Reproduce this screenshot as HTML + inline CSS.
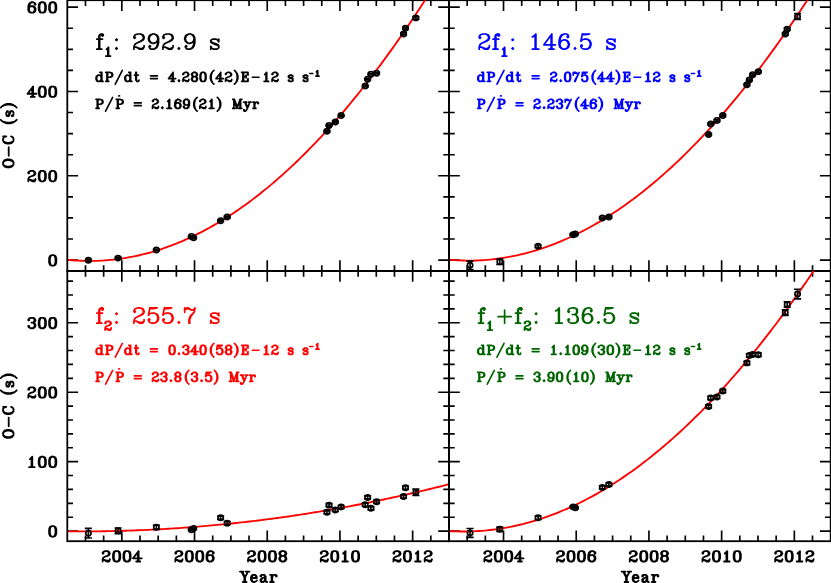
<!DOCTYPE html>
<html><head><meta charset="utf-8"><title>O-C diagrams</title>
<style>html,body{margin:0;padding:0;background:#fff;font-family:"Liberation Sans",sans-serif}svg{display:block}</style></head>
<body>
<svg width="831" height="583" viewBox="0 0 831 583" fill="none" stroke-linecap="round" stroke-linejoin="round">
<title>O-C diagrams</title>
<desc>Four-panel O-C (s) versus Year plot, 2004-2012. f1: 292.9 s, dP/dt = 4.280(42)E-12 s s-1, P/Pdot = 2.169(21) Myr. 2f1: 146.5 s, dP/dt = 2.075(44)E-12 s s-1, P/Pdot = 2.237(46) Myr. f2: 255.7 s, dP/dt = 0.340(58)E-12 s s-1, P/Pdot = 23.8(3.5) Myr. f1+f2: 136.5 s, dP/dt = 1.109(30)E-12 s s-1, P/Pdot = 3.90(10) Myr.</desc>
<rect width="831" height="583" fill="#fff"/>
<defs>
<clipPath id="ctl"><rect x="68.2" y="0.2" width="380.8" height="270.8"/></clipPath>
<clipPath id="ctr"><rect x="449.9" y="0.2" width="380.8" height="270.8"/></clipPath>
<clipPath id="cbl"><rect x="68.2" y="271" width="380.8" height="270.2"/></clipPath>
<clipPath id="cbr"><rect x="449.9" y="271" width="380.8" height="270.2"/></clipPath>
</defs>
<g stroke="#000">
<rect x="67.3" y="0.2" width="381.7" height="270.8" stroke-width="1.8" stroke-linejoin="miter"/>
<path d="M85.48 271v-5.7M85.48 0.2v5.7M103.65 271v-5.7M103.65 0.2v5.7M121.83 271v-10.8M121.83 0.2v10.8M140 271v-5.7M140 0.2v5.7M158.18 271v-5.7M158.18 0.2v5.7M176.36 271v-5.7M176.36 0.2v5.7M194.53 271v-10.8M194.53 0.2v10.8M212.71 271v-5.7M212.71 0.2v5.7M230.89 271v-5.7M230.89 0.2v5.7M249.06 271v-5.7M249.06 0.2v5.7M267.24 271v-10.8M267.24 0.2v10.8M285.41 271v-5.7M285.41 0.2v5.7M303.59 271v-5.7M303.59 0.2v5.7M321.77 271v-5.7M321.77 0.2v5.7M339.94 271v-10.8M339.94 0.2v10.8M358.12 271v-5.7M358.12 0.2v5.7M376.3 271v-5.7M376.3 0.2v5.7M394.47 271v-5.7M394.47 0.2v5.7M412.65 271v-10.8M412.65 0.2v10.8M430.82 271v-5.7M430.82 0.2v5.7M67.3 260.1h10.8M449 260.1h-10.8M67.3 239.02h5.7M449 239.02h-5.7M67.3 217.94h5.7M449 217.94h-5.7M67.3 196.86h5.7M449 196.86h-5.7M67.3 175.78h10.8M449 175.78h-10.8M67.3 154.7h5.7M449 154.7h-5.7M67.3 133.62h5.7M449 133.62h-5.7M67.3 112.54h5.7M449 112.54h-5.7M67.3 91.46h10.8M449 91.46h-10.8M67.3 70.38h5.7M449 70.38h-5.7M67.3 49.3h5.7M449 49.3h-5.7M67.3 28.22h5.7M449 28.22h-5.7M67.3 7.14h10.8M449 7.14h-10.8" stroke-width="1.65" stroke-linecap="butt"/>
</g>
<path clip-path="url(#ctl)" d="M67.3 259.76L70.03 260.03L72.75 260.27L75.48 260.46L78.21 260.63L80.93 260.76L83.66 260.85L86.39 260.92L89.11 260.94L91.84 260.93L94.56 260.89L97.29 260.81L100.02 260.7L102.74 260.56L105.47 260.38L108.2 260.16L110.92 259.91L113.65 259.63L116.38 259.31L119.1 258.96L121.83 258.57L124.56 258.15L127.28 257.69L130.01 257.2L132.73 256.67L135.46 256.11L138.19 255.52L140.91 254.89L143.64 254.22L146.37 253.52L149.09 252.79L151.82 252.02L154.55 251.22L157.27 250.39L160 249.52L162.72 248.61L165.45 247.67L168.18 246.7L170.9 245.69L173.63 244.64L176.36 243.56L179.08 242.45L181.81 241.31L184.54 240.12L187.26 238.91L189.99 237.66L192.72 236.37L195.44 235.05L198.17 233.7L200.89 232.31L203.62 230.89L206.35 229.43L209.07 227.94L211.8 226.41L214.53 224.85L217.25 223.25L219.98 221.62L222.71 219.96L225.43 218.26L228.16 216.52L230.89 214.76L233.61 212.95L236.34 211.12L239.06 209.24L241.79 207.34L244.52 205.4L247.24 203.42L249.97 201.41L252.7 199.37L255.42 197.29L258.15 195.18L260.88 193.03L263.6 190.84L266.33 188.63L269.06 186.38L271.78 184.09L274.51 181.77L277.24 179.41L279.96 177.02L282.69 174.6L285.41 172.14L288.14 169.65L290.87 167.12L293.59 164.56L296.32 161.96L299.05 159.33L301.77 156.67L304.5 153.97L307.23 151.23L309.95 148.46L312.68 145.66L315.41 142.82L318.13 139.95L320.86 137.04L323.58 134.1L326.31 131.12L329.04 128.11L331.76 125.07L334.49 121.99L337.22 118.87L339.94 115.72L342.67 112.54L345.4 109.32L348.12 106.07L350.85 102.78L353.57 99.46L356.3 96.1L359.03 92.71L361.75 89.29L364.48 85.83L367.21 82.33L369.93 78.81L372.66 75.24L375.39 71.65L378.11 68.01L380.84 64.35L383.57 60.65L386.29 56.91L389.02 53.14L391.74 49.34L394.47 45.5L397.2 41.62L399.92 37.71L402.65 33.77L405.38 29.79L408.1 25.78L410.83 21.74L413.56 17.66L416.28 13.54L419.01 9.39L421.74 5.21L424.46 0.99L427.19 -3.27L429.91 -7.55L432.64 -11.88L435.37 -16.23L438.09 -20.63L440.82 -25.05L443.55 -29.51" stroke="#f00" stroke-width="1.85" stroke-linecap="butt"/>
<g stroke="#000" stroke-width="1.65" stroke-linecap="butt">
<circle cx="88.35" cy="260.31" r="2.65"/>
<circle cx="118.08" cy="258.12" r="2.65"/>
<circle cx="156.36" cy="249.9" r="2.65"/>
<circle cx="191.33" cy="236.41" r="2.65"/>
<circle cx="193.62" cy="237.76" r="2.65"/>
<circle cx="220.63" cy="220.68" r="2.65"/>
<circle cx="227.18" cy="216.97" r="2.65"/>
<circle cx="326.93" cy="131.34" r="2.65"/>
<circle cx="329.04" cy="125.44" r="2.65"/>
<circle cx="335.29" cy="122.03" r="2.65"/>
<circle cx="341.11" cy="115.58" r="2.65"/>
<circle cx="365.21" cy="86.06" r="2.65"/>
<circle cx="367.64" cy="79.19" r="2.65"/>
<circle cx="370.95" cy="74.13" r="2.65"/>
<circle cx="376.59" cy="73.16" r="2.65"/>
<circle cx="403.56" cy="33.91" r="2.65"/>
<circle cx="405.49" cy="28.3" r="2.65"/>
<circle cx="415.85" cy="17.89" r="2.65"/>
<path d="M88.35 259.26V261.36M84.8 259.26h7.1M84.8 261.36h7.1M118.08 257.19V259.05M114.53 257.19h7.1M114.53 259.05h7.1M156.36 249.05V250.74M152.81 249.05h7.1M152.81 250.74h7.1M191.33 235.73V237.08M187.78 235.73h7.1M187.78 237.08h7.1M193.62 237.08V238.43M190.07 237.08h7.1M190.07 238.43h7.1M220.63 219.84V221.52M217.08 219.84h7.1M217.08 221.52h7.1M227.18 216.13V217.81M223.63 216.13h7.1M223.63 217.81h7.1M326.93 130.5V132.19M323.38 130.5h7.1M323.38 132.19h7.1M329.04 124.6V126.28M325.49 124.6h7.1M325.49 126.28h7.1M335.29 121.18V122.87M331.74 121.18h7.1M331.74 122.87h7.1M341.11 114.73V116.42M337.56 114.73h7.1M337.56 116.42h7.1M365.21 85.22V86.91M361.66 85.22h7.1M361.66 86.91h7.1M367.64 78.35V80.03M364.09 78.35h7.1M364.09 80.03h7.1M370.95 73.29V74.98M367.4 73.29h7.1M367.4 74.98h7.1M376.59 72.32V74.01M373.04 72.32h7.1M373.04 74.01h7.1M403.56 32.94V34.88M400.01 32.94h7.1M400.01 34.88h7.1M405.49 27.33V29.27M401.94 27.33h7.1M401.94 29.27h7.1M415.85 16.67V19.11M412.3 16.67h7.1M412.3 19.11h7.1"/>
</g>
<g stroke="#000">
<rect x="449" y="0.2" width="381.7" height="270.8" stroke-width="1.8" stroke-linejoin="miter"/>
<path d="M467.18 271v-5.7M467.18 0.2v5.7M485.35 271v-5.7M485.35 0.2v5.7M503.53 271v-10.8M503.53 0.2v10.8M521.7 271v-5.7M521.7 0.2v5.7M539.88 271v-5.7M539.88 0.2v5.7M558.06 271v-5.7M558.06 0.2v5.7M576.23 271v-10.8M576.23 0.2v10.8M594.41 271v-5.7M594.41 0.2v5.7M612.59 271v-5.7M612.59 0.2v5.7M630.76 271v-5.7M630.76 0.2v5.7M648.94 271v-10.8M648.94 0.2v10.8M667.11 271v-5.7M667.11 0.2v5.7M685.29 271v-5.7M685.29 0.2v5.7M703.47 271v-5.7M703.47 0.2v5.7M721.64 271v-10.8M721.64 0.2v10.8M739.82 271v-5.7M739.82 0.2v5.7M758 271v-5.7M758 0.2v5.7M776.17 271v-5.7M776.17 0.2v5.7M794.35 271v-10.8M794.35 0.2v10.8M812.52 271v-5.7M812.52 0.2v5.7M449 260.1h10.8M830.7 260.1h-10.8M449 239.02h5.7M830.7 239.02h-5.7M449 217.94h5.7M830.7 217.94h-5.7M449 196.86h5.7M830.7 196.86h-5.7M449 175.78h10.8M830.7 175.78h-10.8M449 154.7h5.7M830.7 154.7h-5.7M449 133.62h5.7M830.7 133.62h-5.7M449 112.54h5.7M830.7 112.54h-5.7M449 91.46h10.8M830.7 91.46h-10.8M449 70.38h5.7M830.7 70.38h-5.7M449 49.3h5.7M830.7 49.3h-5.7M449 28.22h5.7M830.7 28.22h-5.7M449 7.14h10.8M830.7 7.14h-10.8" stroke-width="1.65" stroke-linecap="butt"/>
</g>
<path clip-path="url(#ctr)" d="M449 259.72L451.73 259.95L454.45 260.14L457.18 260.3L459.91 260.43L462.63 260.52L465.36 260.58L468.09 260.6L470.81 260.6L473.54 260.55L476.26 260.48L478.99 260.37L481.72 260.22L484.44 260.05L487.17 259.83L489.9 259.59L492.62 259.31L495.35 259L498.08 258.65L500.8 258.27L503.53 257.86L506.26 257.41L508.98 256.93L511.71 256.41L514.43 255.86L517.16 255.28L519.89 254.66L522.61 254.01L525.34 253.33L528.07 252.61L530.79 251.86L533.52 251.07L536.25 250.25L538.97 249.4L541.7 248.51L544.42 247.59L547.15 246.63L549.88 245.65L552.6 244.62L555.33 243.57L558.06 242.48L560.78 241.35L563.51 240.2L566.24 239.01L568.96 237.78L571.69 236.52L574.42 235.23L577.14 233.9L579.87 232.54L582.59 231.15L585.32 229.72L588.05 228.26L590.77 226.77L593.5 225.24L596.23 223.67L598.95 222.08L601.68 220.45L604.41 218.78L607.13 217.08L609.86 215.35L612.59 213.59L615.31 211.79L618.04 209.96L620.76 208.09L623.49 206.19L626.22 204.25L628.94 202.29L631.67 200.28L634.4 198.25L637.12 196.18L639.85 194.08L642.58 191.94L645.3 189.77L648.03 187.56L650.76 185.32L653.48 183.05L656.21 180.75L658.94 178.41L661.66 176.03L664.39 173.63L667.11 171.18L669.84 168.71L672.57 166.2L675.29 163.66L678.02 161.08L680.75 158.47L683.47 155.83L686.2 153.15L688.93 150.44L691.65 147.69L694.38 144.92L697.11 142.1L699.83 139.26L702.56 136.38L705.28 133.46L708.01 130.51L710.74 127.53L713.46 124.52L716.19 121.47L718.92 118.39L721.64 115.27L724.37 112.12L727.1 108.93L729.82 105.72L732.55 102.46L735.28 99.18L738 95.86L740.73 92.51L743.45 89.12L746.18 85.7L748.91 82.24L751.63 78.75L754.36 75.23L757.09 71.68L759.81 68.09L762.54 64.46L765.27 60.81L767.99 57.12L770.72 53.39L773.44 49.63L776.17 45.84L778.9 42.01L781.62 38.15L784.35 34.26L787.08 30.33L789.8 26.37L792.53 22.38L795.26 18.35L797.98 14.28L800.71 10.19L803.44 6.06L806.16 1.89L808.89 -2.3L811.61 -6.54L814.34 -10.8L817.07 -15.1L819.79 -19.43L822.52 -23.8L825.25 -28.2" stroke="#f00" stroke-width="1.85" stroke-linecap="butt"/>
<g stroke="#000" stroke-width="1.65" stroke-linecap="butt">
<circle cx="470.05" cy="265.29" r="2.65"/>
<circle cx="499.78" cy="261.83" r="2.65"/>
<circle cx="538.06" cy="246.23" r="2.65"/>
<circle cx="573.03" cy="234.68" r="2.65"/>
<circle cx="575.32" cy="234" r="2.65"/>
<circle cx="602.33" cy="217.9" r="2.65"/>
<circle cx="608.88" cy="216.97" r="2.65"/>
<circle cx="708.63" cy="134.51" r="2.65"/>
<circle cx="710.74" cy="124.09" r="2.65"/>
<circle cx="716.99" cy="120.38" r="2.65"/>
<circle cx="722.81" cy="115.58" r="2.65"/>
<circle cx="746.91" cy="84.71" r="2.65"/>
<circle cx="749.34" cy="79.91" r="2.65"/>
<circle cx="752.65" cy="74.68" r="2.65"/>
<circle cx="758.29" cy="71.64" r="2.65"/>
<circle cx="785.26" cy="33.91" r="2.65"/>
<circle cx="787.19" cy="29.23" r="2.65"/>
<circle cx="797.55" cy="16.46" r="2.65"/>
<path d="M470.05 261.07V269.5M466.5 261.07h7.1M466.5 269.5h7.1M499.78 259.13V264.53M496.23 259.13h7.1M496.23 264.53h7.1M538.06 244.96V247.49M534.51 244.96h7.1M534.51 247.49h7.1M573.03 233.92V235.44M569.48 233.92h7.1M569.48 235.44h7.1M575.32 233.24V234.76M571.77 233.24h7.1M571.77 234.76h7.1M602.33 216.97V218.83M598.78 216.97h7.1M598.78 218.83h7.1M608.88 216.04V217.9M605.33 216.04h7.1M605.33 217.9h7.1M708.63 133.58V135.43M705.08 133.58h7.1M705.08 135.43h7.1M710.74 123.16V125.02M707.19 123.16h7.1M707.19 125.02h7.1M716.99 119.45V121.31M713.44 119.45h7.1M713.44 121.31h7.1M722.81 114.65V116.5M719.26 114.65h7.1M719.26 116.5h7.1M746.91 83.79V85.64M743.36 83.79h7.1M743.36 85.64h7.1M749.34 78.98V80.84M745.79 78.98h7.1M745.79 80.84h7.1M752.65 73.75V75.61M749.1 73.75h7.1M749.1 75.61h7.1M758.29 70.72V72.57M754.74 70.72h7.1M754.74 72.57h7.1M785.26 32.86V34.97M781.71 32.86h7.1M781.71 34.97h7.1M787.19 28.18V30.29M783.64 28.18h7.1M783.64 30.29h7.1M797.55 13.51V19.41M794 13.51h7.1M794 19.41h7.1"/>
</g>
<g stroke="#000">
<rect x="67.3" y="271" width="381.7" height="270.2" stroke-width="1.8" stroke-linejoin="miter"/>
<path d="M85.48 541.2v-5.7M85.48 271v5.7M103.65 541.2v-5.7M103.65 271v5.7M121.83 541.2v-10.8M121.83 271v10.8M140 541.2v-5.7M140 271v5.7M158.18 541.2v-5.7M158.18 271v5.7M176.36 541.2v-5.7M176.36 271v5.7M194.53 541.2v-10.8M194.53 271v10.8M212.71 541.2v-5.7M212.71 271v5.7M230.89 541.2v-5.7M230.89 271v5.7M249.06 541.2v-5.7M249.06 271v5.7M267.24 541.2v-10.8M267.24 271v10.8M285.41 541.2v-5.7M285.41 271v5.7M303.59 541.2v-5.7M303.59 271v5.7M321.77 541.2v-5.7M321.77 271v5.7M339.94 541.2v-10.8M339.94 271v10.8M358.12 541.2v-5.7M358.12 271v5.7M376.3 541.2v-5.7M376.3 271v5.7M394.47 541.2v-5.7M394.47 271v5.7M412.65 541.2v-10.8M412.65 271v10.8M430.82 541.2v-5.7M430.82 271v5.7M67.3 531.1h10.8M449 531.1h-10.8M67.3 517.21h5.7M449 517.21h-5.7M67.3 503.32h5.7M449 503.32h-5.7M67.3 489.43h5.7M449 489.43h-5.7M67.3 475.54h5.7M449 475.54h-5.7M67.3 461.65h10.8M449 461.65h-10.8M67.3 447.76h5.7M449 447.76h-5.7M67.3 433.87h5.7M449 433.87h-5.7M67.3 419.98h5.7M449 419.98h-5.7M67.3 406.09h5.7M449 406.09h-5.7M67.3 392.2h10.8M449 392.2h-10.8M67.3 378.31h5.7M449 378.31h-5.7M67.3 364.42h5.7M449 364.42h-5.7M67.3 350.53h5.7M449 350.53h-5.7M67.3 336.64h5.7M449 336.64h-5.7M67.3 322.75h10.8M449 322.75h-10.8M67.3 308.86h5.7M449 308.86h-5.7M67.3 294.97h5.7M449 294.97h-5.7M67.3 281.08h5.7M449 281.08h-5.7" stroke-width="1.65" stroke-linecap="butt"/>
</g>
<path clip-path="url(#cbl)" d="M67.3 531.36L70.03 531.39L72.75 531.4L75.48 531.42L78.21 531.42L80.93 531.43L83.66 531.42L86.39 531.42L89.11 531.4L91.84 531.38L94.56 531.36L97.29 531.33L100.02 531.3L102.74 531.26L105.47 531.21L108.2 531.16L110.92 531.11L113.65 531.05L116.38 530.98L119.1 530.91L121.83 530.84L124.56 530.76L127.28 530.67L130.01 530.58L132.73 530.49L135.46 530.38L138.19 530.28L140.91 530.17L143.64 530.05L146.37 529.93L149.09 529.8L151.82 529.67L154.55 529.53L157.27 529.39L160 529.24L162.72 529.09L165.45 528.93L168.18 528.77L170.9 528.6L173.63 528.42L176.36 528.25L179.08 528.06L181.81 527.87L184.54 527.68L187.26 527.48L189.99 527.27L192.72 527.06L195.44 526.85L198.17 526.63L200.89 526.4L203.62 526.17L206.35 525.94L209.07 525.7L211.8 525.45L214.53 525.2L217.25 524.94L219.98 524.68L222.71 524.41L225.43 524.14L228.16 523.86L230.89 523.58L233.61 523.29L236.34 523L239.06 522.7L241.79 522.4L244.52 522.09L247.24 521.78L249.97 521.46L252.7 521.14L255.42 520.81L258.15 520.47L260.88 520.13L263.6 519.79L266.33 519.44L269.06 519.09L271.78 518.73L274.51 518.36L277.24 517.99L279.96 517.62L282.69 517.23L285.41 516.85L288.14 516.46L290.87 516.06L293.59 515.66L296.32 515.25L299.05 514.84L301.77 514.43L304.5 514L307.23 513.58L309.95 513.14L312.68 512.71L315.41 512.26L318.13 511.82L320.86 511.36L323.58 510.9L326.31 510.44L329.04 509.97L331.76 509.5L334.49 509.02L337.22 508.54L339.94 508.05L342.67 507.55L345.4 507.05L348.12 506.55L350.85 506.04L353.57 505.52L356.3 505L359.03 504.48L361.75 503.95L364.48 503.41L367.21 502.87L369.93 502.32L372.66 501.77L375.39 501.22L378.11 500.65L380.84 500.09L383.57 499.51L386.29 498.94L389.02 498.35L391.74 497.77L394.47 497.17L397.2 496.58L399.92 495.97L402.65 495.37L405.38 494.75L408.1 494.13L410.83 493.51L413.56 492.88L416.28 492.25L419.01 491.61L421.74 490.96L424.46 490.31L427.19 489.66L429.91 489L432.64 488.33L435.37 487.66L438.09 486.99L440.82 486.31L443.55 485.62L446.27 484.93L449 484.23" stroke="#f00" stroke-width="1.85" stroke-linecap="butt"/>
<g stroke="#000" stroke-width="1.65" stroke-linecap="butt">
<circle cx="88.35" cy="533.18" r="2.65"/>
<circle cx="118.08" cy="530.82" r="2.65"/>
<circle cx="156.36" cy="527.28" r="2.65"/>
<circle cx="191.33" cy="529.71" r="2.65"/>
<circle cx="193.62" cy="528.53" r="2.65"/>
<circle cx="220.63" cy="517.7" r="2.65"/>
<circle cx="227.18" cy="523.18" r="2.65"/>
<circle cx="326.93" cy="512.21" r="2.65"/>
<circle cx="329.04" cy="505.13" r="2.65"/>
<circle cx="335.29" cy="509.92" r="2.65"/>
<circle cx="341.11" cy="507" r="2.65"/>
<circle cx="365.21" cy="504.71" r="2.65"/>
<circle cx="367.64" cy="497.42" r="2.65"/>
<circle cx="370.95" cy="508.32" r="2.65"/>
<circle cx="376.59" cy="501.79" r="2.65"/>
<circle cx="403.56" cy="496.51" r="2.65"/>
<circle cx="405.49" cy="487.69" r="2.65"/>
<circle cx="415.85" cy="492.21" r="2.65"/>
<path d="M88.35 528.39V537.98M84.8 528.39h7.1M84.8 537.98h7.1M118.08 527.97V533.67M114.53 527.97h7.1M114.53 533.67h7.1M156.36 525.2V529.36M152.81 525.2h7.1M152.81 529.36h7.1M191.33 528.95V530.47M187.78 528.95h7.1M187.78 530.47h7.1M193.62 527.77V529.29M190.07 527.77h7.1M190.07 529.29h7.1M220.63 515.96V519.43M217.08 515.96h7.1M217.08 519.43h7.1M227.18 521.65V524.71M223.63 521.65h7.1M223.63 524.71h7.1M326.93 510.68V513.74M323.38 510.68h7.1M323.38 513.74h7.1M329.04 503.6V506.65M325.49 503.6h7.1M325.49 506.65h7.1M335.29 508.39V511.45M331.74 508.39h7.1M331.74 511.45h7.1M341.11 505.47V508.53M337.56 505.47h7.1M337.56 508.53h7.1M365.21 503.18V506.24M361.66 503.18h7.1M361.66 506.24h7.1M367.64 495.89V498.94M364.09 495.89h7.1M364.09 498.94h7.1M370.95 506.79V509.85M367.4 506.79h7.1M367.4 509.85h7.1M376.59 500.26V503.32M373.04 500.26h7.1M373.04 503.32h7.1M403.56 494.99V498.04M400.01 494.99h7.1M400.01 498.04h7.1M405.49 485.96V489.43M401.94 485.96h7.1M401.94 489.43h7.1M415.85 489.08V495.33M412.3 489.08h7.1M412.3 495.33h7.1"/>
</g>
<g stroke="#000">
<rect x="449" y="271" width="381.7" height="270.2" stroke-width="1.8" stroke-linejoin="miter"/>
<path d="M467.18 541.2v-5.7M467.18 271v5.7M485.35 541.2v-5.7M485.35 271v5.7M503.53 541.2v-10.8M503.53 271v10.8M521.7 541.2v-5.7M521.7 271v5.7M539.88 541.2v-5.7M539.88 271v5.7M558.06 541.2v-5.7M558.06 271v5.7M576.23 541.2v-10.8M576.23 271v10.8M594.41 541.2v-5.7M594.41 271v5.7M612.59 541.2v-5.7M612.59 271v5.7M630.76 541.2v-5.7M630.76 271v5.7M648.94 541.2v-10.8M648.94 271v10.8M667.11 541.2v-5.7M667.11 271v5.7M685.29 541.2v-5.7M685.29 271v5.7M703.47 541.2v-5.7M703.47 271v5.7M721.64 541.2v-10.8M721.64 271v10.8M739.82 541.2v-5.7M739.82 271v5.7M758 541.2v-5.7M758 271v5.7M776.17 541.2v-5.7M776.17 271v5.7M794.35 541.2v-10.8M794.35 271v10.8M812.52 541.2v-5.7M812.52 271v5.7M449 531.1h10.8M830.7 531.1h-10.8M449 517.21h5.7M830.7 517.21h-5.7M449 503.32h5.7M830.7 503.32h-5.7M449 489.43h5.7M830.7 489.43h-5.7M449 475.54h5.7M830.7 475.54h-5.7M449 461.65h10.8M830.7 461.65h-10.8M449 447.76h5.7M830.7 447.76h-5.7M449 433.87h5.7M830.7 433.87h-5.7M449 419.98h5.7M830.7 419.98h-5.7M449 406.09h5.7M830.7 406.09h-5.7M449 392.2h10.8M830.7 392.2h-10.8M449 378.31h5.7M830.7 378.31h-5.7M449 364.42h5.7M830.7 364.42h-5.7M449 350.53h5.7M830.7 350.53h-5.7M449 336.64h5.7M830.7 336.64h-5.7M449 322.75h10.8M830.7 322.75h-10.8M449 308.86h5.7M830.7 308.86h-5.7M449 294.97h5.7M830.7 294.97h-5.7M449 281.08h5.7M830.7 281.08h-5.7" stroke-width="1.65" stroke-linecap="butt"/>
</g>
<path clip-path="url(#cbr)" d="M449 531.07L451.73 531.22L454.45 531.34L457.18 531.43L459.91 531.49L462.63 531.51L465.36 531.51L468.09 531.47L470.81 531.4L473.54 531.3L476.26 531.17L478.99 531.01L481.72 530.81L484.44 530.59L487.17 530.33L489.9 530.04L492.62 529.72L495.35 529.37L498.08 528.98L500.8 528.56L503.53 528.12L506.26 527.64L508.98 527.13L511.71 526.58L514.43 526.01L517.16 525.4L519.89 524.77L522.61 524.1L525.34 523.4L528.07 522.66L530.79 521.9L533.52 521.1L536.25 520.28L538.97 519.42L541.7 518.53L544.42 517.61L547.15 516.65L549.88 515.67L552.6 514.65L555.33 513.6L558.06 512.52L560.78 511.41L563.51 510.27L566.24 509.09L568.96 507.89L571.69 506.65L574.42 505.38L577.14 504.08L579.87 502.74L582.59 501.38L585.32 499.98L588.05 498.55L590.77 497.09L593.5 495.6L596.23 494.08L598.95 492.53L601.68 490.94L604.41 489.32L607.13 487.67L609.86 485.99L612.59 484.28L615.31 482.54L618.04 480.76L620.76 478.95L623.49 477.12L626.22 475.25L628.94 473.34L631.67 471.41L634.4 469.44L637.12 467.45L639.85 465.42L642.58 463.36L645.3 461.27L648.03 459.14L650.76 456.99L653.48 454.8L656.21 452.59L658.94 450.34L661.66 448.05L664.39 445.74L667.11 443.4L669.84 441.02L672.57 438.61L675.29 436.17L678.02 433.7L680.75 431.2L683.47 428.67L686.2 426.1L688.93 423.5L691.65 420.87L694.38 418.21L697.11 415.52L699.83 412.8L702.56 410.04L705.28 407.25L708.01 404.44L710.74 401.58L713.46 398.7L716.19 395.79L718.92 392.84L721.64 389.87L724.37 386.86L727.1 383.82L729.82 380.75L732.55 377.64L735.28 374.51L738 371.34L740.73 368.14L743.45 364.91L746.18 361.65L748.91 358.36L751.63 355.04L754.36 351.68L757.09 348.29L759.81 344.87L762.54 341.42L765.27 337.94L767.99 334.43L770.72 330.88L773.44 327.3L776.17 323.69L778.9 320.05L781.62 316.38L784.35 312.68L787.08 308.94L789.8 305.17L792.53 301.38L795.26 297.54L797.98 293.68L800.71 289.79L803.44 285.86L806.16 281.91L808.89 277.92L811.61 273.9L814.34 269.85L817.07 265.76L819.79 261.65L822.52 257.5L825.25 253.32L827.97 249.12L830.7 244.87" stroke="#f00" stroke-width="1.85" stroke-linecap="butt"/>
<g stroke="#000" stroke-width="1.65" stroke-linecap="butt">
<circle cx="470.05" cy="532.91" r="2.65"/>
<circle cx="499.78" cy="529.22" r="2.65"/>
<circle cx="538.06" cy="517.77" r="2.65"/>
<circle cx="573.03" cy="506.86" r="2.65"/>
<circle cx="575.32" cy="507.83" r="2.65"/>
<circle cx="602.33" cy="487.42" r="2.65"/>
<circle cx="608.88" cy="484.57" r="2.65"/>
<circle cx="708.63" cy="406.44" r="2.65"/>
<circle cx="710.74" cy="397.89" r="2.65"/>
<circle cx="716.99" cy="396.99" r="2.65"/>
<circle cx="722.81" cy="391.09" r="2.65"/>
<circle cx="746.91" cy="362.89" r="2.65"/>
<circle cx="749.34" cy="355.39" r="2.65"/>
<circle cx="752.65" cy="354.42" r="2.65"/>
<circle cx="758.29" cy="354.7" r="2.65"/>
<circle cx="785.26" cy="312.61" r="2.65"/>
<circle cx="787.19" cy="304.42" r="2.65"/>
<circle cx="797.55" cy="294.07" r="2.65"/>
<path d="M470.05 528.46V537.35M466.5 528.46h7.1M466.5 537.35h7.1M499.78 527.14V531.31M496.23 527.14h7.1M496.23 531.31h7.1M538.06 516.03V519.5M534.51 516.03h7.1M534.51 519.5h7.1M573.03 506.1V507.63M569.48 506.1h7.1M569.48 507.63h7.1M575.32 507.07V508.6M571.77 507.07h7.1M571.77 508.6h7.1M602.33 485.89V488.94M598.78 485.89h7.1M598.78 488.94h7.1M608.88 483.04V486.1M605.33 483.04h7.1M605.33 486.1h7.1M708.63 404.91V407.97M705.08 404.91h7.1M705.08 407.97h7.1M710.74 396.23V399.56M707.19 396.23h7.1M707.19 399.56h7.1M716.99 395.46V398.52M713.44 395.46h7.1M713.44 398.52h7.1M722.81 389.56V392.62M719.26 389.56h7.1M719.26 392.62h7.1M746.91 361.23V364.56M743.36 361.23h7.1M743.36 364.56h7.1M749.34 353.72V357.06M745.79 353.72h7.1M745.79 357.06h7.1M752.65 352.75V356.09M749.1 352.75h7.1M749.1 356.09h7.1M758.29 353.03V356.36M754.74 353.03h7.1M754.74 356.36h7.1M785.26 309.9V315.32M781.71 309.9h7.1M781.71 315.32h7.1M787.19 301.71V307.12M783.64 301.71h7.1M783.64 307.12h7.1M797.55 289.28V298.86M794 289.28h7.1M794 298.86h7.1"/>
</g>
<g><path d="M51.5 255.2L49.9 256L49.1 258.4L49.1 262.4L49.9 264.8L51.5 265.6L53.9 265.6L55.5 264.8L56.3 262.4L56.3 258.4L55.5 256L53.9 255.2L51.5 255.2M51.5 255.2L50.7 256L49.9 258.4L49.9 262.4L50.7 264.8L51.5 265.6M53.9 265.6L54.7 264.8L55.5 262.4L55.5 258.4L54.7 256L53.9 255.2" stroke="#000" stroke-width="1.8"/>
<path d="M29.1 172.48L29.1 173.28L28.3 173.28L28.3 172.48L29.1 171.68L30.7 170.88L33.1 170.88L34.7 171.68L35.5 173.28L34.7 174.88L33.1 175.68L30.7 176.48L29.1 177.28L28.3 178.88L28.3 181.28M33.1 170.88L33.9 171.68L34.7 173.28L33.9 174.88L33.1 175.68M28.3 180.48L29.1 179.68L29.9 179.68L32.3 180.48L34.7 180.48L35.5 179.68M29.9 179.68L32.3 181.28L34.7 181.28L35.5 179.68L35.5 178.88M41.1 170.88L39.5 171.68L38.7 174.08L38.7 178.08L39.5 180.48L41.1 181.28L43.5 181.28L45.1 180.48L45.9 178.08L45.9 174.08L45.1 171.68L43.5 170.88L41.1 170.88M41.1 170.88L40.3 171.68L39.5 174.08L39.5 178.08L40.3 180.48L41.1 181.28M43.5 181.28L44.3 180.48L45.1 178.08L45.1 174.08L44.3 171.68L43.5 170.88M51.5 170.88L49.9 171.68L49.1 174.08L49.1 178.08L49.9 180.48L51.5 181.28L53.9 181.28L55.5 180.48L56.3 178.08L56.3 174.08L55.5 171.68L53.9 170.88L51.5 170.88M51.5 170.88L50.7 171.68L49.9 174.08L49.9 178.08L50.7 180.48L51.5 181.28M53.9 181.28L54.7 180.48L55.5 178.08L55.5 174.08L54.7 171.68L53.9 170.88" stroke="#000" stroke-width="1.8"/>
<path d="M32.3 88.16L32.3 96.96M33.1 86.56L33.1 96.96M33.1 86.56L27.5 93.76L36.3 93.76M30.7 96.96L34.7 96.96M41.1 86.56L39.5 87.36L38.7 89.76L38.7 93.76L39.5 96.16L41.1 96.96L43.5 96.96L45.1 96.16L45.9 93.76L45.9 89.76L45.1 87.36L43.5 86.56L41.1 86.56M41.1 86.56L40.3 87.36L39.5 89.76L39.5 93.76L40.3 96.16L41.1 96.96M43.5 96.96L44.3 96.16L45.1 93.76L45.1 89.76L44.3 87.36L43.5 86.56M51.5 86.56L49.9 87.36L49.1 89.76L49.1 93.76L49.9 96.16L51.5 96.96L53.9 96.96L55.5 96.16L56.3 93.76L56.3 89.76L55.5 87.36L53.9 86.56L51.5 86.56M51.5 86.56L50.7 87.36L49.9 89.76L49.9 93.76L50.7 96.16L51.5 96.96M53.9 96.96L54.7 96.16L55.5 93.76L55.5 89.76L54.7 87.36L53.9 86.56" stroke="#000" stroke-width="1.8"/>
<path d="M34.7 3.84L34.7 4.64L35.5 4.64L35.5 3.84L34.7 3.04L33.1 2.24L31.5 2.24L29.9 3.04L29.1 3.84L28.3 6.24L28.3 10.24L29.1 11.84L30.7 12.64L33.1 12.64L34.7 11.84L35.5 10.24L35.5 8.64L34.7 7.04L33.1 6.24L30.7 6.24L28.3 7.84M31.5 2.24L29.9 3.84L29.1 6.24L29.1 10.24L29.9 11.84L30.7 12.64M33.1 12.64L33.9 11.84L34.7 10.24L34.7 8.64L33.9 7.04L33.1 6.24M41.1 2.24L39.5 3.04L38.7 5.44L38.7 9.44L39.5 11.84L41.1 12.64L43.5 12.64L45.1 11.84L45.9 9.44L45.9 5.44L45.1 3.04L43.5 2.24L41.1 2.24M41.1 2.24L40.3 3.04L39.5 5.44L39.5 9.44L40.3 11.84L41.1 12.64M43.5 12.64L44.3 11.84L45.1 9.44L45.1 5.44L44.3 3.04L43.5 2.24M51.5 2.24L49.9 3.04L49.1 5.44L49.1 9.44L49.9 11.84L51.5 12.64L53.9 12.64L55.5 11.84L56.3 9.44L56.3 5.44L55.5 3.04L53.9 2.24L51.5 2.24M51.5 2.24L50.7 3.04L49.9 5.44L49.9 9.44L50.7 11.84L51.5 12.64M53.9 12.64L54.7 11.84L55.5 9.44L55.5 5.44L54.7 3.04L53.9 2.24" stroke="#000" stroke-width="1.8"/>
<path d="M51.5 526.2L49.9 527L49.1 529.4L49.1 533.4L49.9 535.8L51.5 536.6L53.9 536.6L55.5 535.8L56.3 533.4L56.3 529.4L55.5 527L53.9 526.2L51.5 526.2M51.5 526.2L50.7 527L49.9 529.4L49.9 533.4L50.7 535.8L51.5 536.6M53.9 536.6L54.7 535.8L55.5 533.4L55.5 529.4L54.7 527L53.9 526.2" stroke="#000" stroke-width="1.8"/>
<path d="M29.9 459.15L32.3 456.75L32.3 467.15M31.5 457.55L31.5 467.15M29.1 467.15L34.7 467.15M41.1 456.75L39.5 457.55L38.7 459.95L38.7 463.95L39.5 466.35L41.1 467.15L43.5 467.15L45.1 466.35L45.9 463.95L45.9 459.95L45.1 457.55L43.5 456.75L41.1 456.75M41.1 456.75L40.3 457.55L39.5 459.95L39.5 463.95L40.3 466.35L41.1 467.15M43.5 467.15L44.3 466.35L45.1 463.95L45.1 459.95L44.3 457.55L43.5 456.75M51.5 456.75L49.9 457.55L49.1 459.95L49.1 463.95L49.9 466.35L51.5 467.15L53.9 467.15L55.5 466.35L56.3 463.95L56.3 459.95L55.5 457.55L53.9 456.75L51.5 456.75M51.5 456.75L50.7 457.55L49.9 459.95L49.9 463.95L50.7 466.35L51.5 467.15M53.9 467.15L54.7 466.35L55.5 463.95L55.5 459.95L54.7 457.55L53.9 456.75" stroke="#000" stroke-width="1.8"/>
<path d="M29.1 388.9L29.1 389.7L28.3 389.7L28.3 388.9L29.1 388.1L30.7 387.3L33.1 387.3L34.7 388.1L35.5 389.7L34.7 391.3L33.1 392.1L30.7 392.9L29.1 393.7L28.3 395.3L28.3 397.7M33.1 387.3L33.9 388.1L34.7 389.7L33.9 391.3L33.1 392.1M28.3 396.9L29.1 396.1L29.9 396.1L32.3 396.9L34.7 396.9L35.5 396.1M29.9 396.1L32.3 397.7L34.7 397.7L35.5 396.1L35.5 395.3M41.1 387.3L39.5 388.1L38.7 390.5L38.7 394.5L39.5 396.9L41.1 397.7L43.5 397.7L45.1 396.9L45.9 394.5L45.9 390.5L45.1 388.1L43.5 387.3L41.1 387.3M41.1 387.3L40.3 388.1L39.5 390.5L39.5 394.5L40.3 396.9L41.1 397.7M43.5 397.7L44.3 396.9L45.1 394.5L45.1 390.5L44.3 388.1L43.5 387.3M51.5 387.3L49.9 388.1L49.1 390.5L49.1 394.5L49.9 396.9L51.5 397.7L53.9 397.7L55.5 396.9L56.3 394.5L56.3 390.5L55.5 388.1L53.9 387.3L51.5 387.3M51.5 387.3L50.7 388.1L49.9 390.5L49.9 394.5L50.7 396.9L51.5 397.7M53.9 397.7L54.7 396.9L55.5 394.5L55.5 390.5L54.7 388.1L53.9 387.3" stroke="#000" stroke-width="1.8"/>
<path d="M29.1 319.45L29.1 320.25L28.3 320.25L28.3 319.45L29.1 318.65L30.7 317.85L33.1 317.85L34.7 318.65L35.5 320.25L34.7 321.85L33.1 322.65M33.1 317.85L33.9 318.65L34.7 320.25L33.9 321.85L33.1 322.65M31.5 322.65L33.1 322.65L34.7 323.45L35.5 325.05L35.5 325.85L34.7 327.45L33.1 328.25L30.7 328.25L29.1 327.45L28.3 326.65L28.3 325.85L29.1 325.85L29.1 326.65M33.1 322.65L33.9 323.45L34.7 325.05L34.7 325.85L33.9 327.45L33.1 328.25M41.1 317.85L39.5 318.65L38.7 321.05L38.7 325.05L39.5 327.45L41.1 328.25L43.5 328.25L45.1 327.45L45.9 325.05L45.9 321.05L45.1 318.65L43.5 317.85L41.1 317.85M41.1 317.85L40.3 318.65L39.5 321.05L39.5 325.05L40.3 327.45L41.1 328.25M43.5 328.25L44.3 327.45L45.1 325.05L45.1 321.05L44.3 318.65L43.5 317.85M51.5 317.85L49.9 318.65L49.1 321.05L49.1 325.05L49.9 327.45L51.5 328.25L53.9 328.25L55.5 327.45L56.3 325.05L56.3 321.05L55.5 318.65L53.9 317.85L51.5 317.85M51.5 317.85L50.7 318.65L49.9 321.05L49.9 325.05L50.7 327.45L51.5 328.25M53.9 328.25L54.7 327.45L55.5 325.05L55.5 321.05L54.7 318.65L53.9 317.85" stroke="#000" stroke-width="1.8"/>
<path d="M103.43 552.7L103.43 553.5L102.63 553.5L102.63 552.7L103.43 551.9L105.03 551.1L107.43 551.1L109.03 551.9L109.83 553.5L109.03 555.1L107.43 555.9L105.03 556.7L103.43 557.5L102.63 559.1L102.63 561.5M107.43 551.1L108.23 551.9L109.03 553.5L108.23 555.1L107.43 555.9M102.63 560.7L103.43 559.9L104.23 559.9L106.63 560.7L109.03 560.7L109.83 559.9M104.23 559.9L106.63 561.5L109.03 561.5L109.83 559.9L109.83 559.1M115.43 551.1L113.83 551.9L113.03 554.3L113.03 558.3L113.83 560.7L115.43 561.5L117.83 561.5L119.43 560.7L120.23 558.3L120.23 554.3L119.43 551.9L117.83 551.1L115.43 551.1M115.43 551.1L114.63 551.9L113.83 554.3L113.83 558.3L114.63 560.7L115.43 561.5M117.83 561.5L118.63 560.7L119.43 558.3L119.43 554.3L118.63 551.9L117.83 551.1M125.83 551.1L124.23 551.9L123.43 554.3L123.43 558.3L124.23 560.7L125.83 561.5L128.23 561.5L129.83 560.7L130.63 558.3L130.63 554.3L129.83 551.9L128.23 551.1L125.83 551.1M125.83 551.1L125.03 551.9L124.23 554.3L124.23 558.3L125.03 560.7L125.83 561.5M128.23 561.5L129.03 560.7L129.83 558.3L129.83 554.3L129.03 551.9L128.23 551.1M137.83 552.7L137.83 561.5M138.63 551.1L138.63 561.5M138.63 551.1L133.03 558.3L141.83 558.3M136.23 561.5L140.23 561.5" stroke="#000" stroke-width="1.8"/>
<path d="M176.13 552.7L176.13 553.5L175.33 553.5L175.33 552.7L176.13 551.9L177.73 551.1L180.13 551.1L181.73 551.9L182.53 553.5L181.73 555.1L180.13 555.9L177.73 556.7L176.13 557.5L175.33 559.1L175.33 561.5M180.13 551.1L180.93 551.9L181.73 553.5L180.93 555.1L180.13 555.9M175.33 560.7L176.13 559.9L176.93 559.9L179.33 560.7L181.73 560.7L182.53 559.9M176.93 559.9L179.33 561.5L181.73 561.5L182.53 559.9L182.53 559.1M188.13 551.1L186.53 551.9L185.73 554.3L185.73 558.3L186.53 560.7L188.13 561.5L190.53 561.5L192.13 560.7L192.93 558.3L192.93 554.3L192.13 551.9L190.53 551.1L188.13 551.1M188.13 551.1L187.33 551.9L186.53 554.3L186.53 558.3L187.33 560.7L188.13 561.5M190.53 561.5L191.33 560.7L192.13 558.3L192.13 554.3L191.33 551.9L190.53 551.1M198.53 551.1L196.93 551.9L196.13 554.3L196.13 558.3L196.93 560.7L198.53 561.5L200.93 561.5L202.53 560.7L203.33 558.3L203.33 554.3L202.53 551.9L200.93 551.1L198.53 551.1M198.53 551.1L197.73 551.9L196.93 554.3L196.93 558.3L197.73 560.7L198.53 561.5M200.93 561.5L201.73 560.7L202.53 558.3L202.53 554.3L201.73 551.9L200.93 551.1M212.93 552.7L212.93 553.5L213.73 553.5L213.73 552.7L212.93 551.9L211.33 551.1L209.73 551.1L208.13 551.9L207.33 552.7L206.53 555.1L206.53 559.1L207.33 560.7L208.93 561.5L211.33 561.5L212.93 560.7L213.73 559.1L213.73 557.5L212.93 555.9L211.33 555.1L208.93 555.1L206.53 556.7M209.73 551.1L208.13 552.7L207.33 555.1L207.33 559.1L208.13 560.7L208.93 561.5M211.33 561.5L212.13 560.7L212.93 559.1L212.93 557.5L212.13 555.9L211.33 555.1" stroke="#000" stroke-width="1.8"/>
<path d="M248.84 552.7L248.84 553.5L248.04 553.5L248.04 552.7L248.84 551.9L250.44 551.1L252.84 551.1L254.44 551.9L255.24 553.5L254.44 555.1L252.84 555.9L250.44 556.7L248.84 557.5L248.04 559.1L248.04 561.5M252.84 551.1L253.64 551.9L254.44 553.5L253.64 555.1L252.84 555.9M248.04 560.7L248.84 559.9L249.64 559.9L252.04 560.7L254.44 560.7L255.24 559.9M249.64 559.9L252.04 561.5L254.44 561.5L255.24 559.9L255.24 559.1M260.84 551.1L259.24 551.9L258.44 554.3L258.44 558.3L259.24 560.7L260.84 561.5L263.24 561.5L264.84 560.7L265.64 558.3L265.64 554.3L264.84 551.9L263.24 551.1L260.84 551.1M260.84 551.1L260.04 551.9L259.24 554.3L259.24 558.3L260.04 560.7L260.84 561.5M263.24 561.5L264.04 560.7L264.84 558.3L264.84 554.3L264.04 551.9L263.24 551.1M271.24 551.1L269.64 551.9L268.84 554.3L268.84 558.3L269.64 560.7L271.24 561.5L273.64 561.5L275.24 560.7L276.04 558.3L276.04 554.3L275.24 551.9L273.64 551.1L271.24 551.1M271.24 551.1L270.44 551.9L269.64 554.3L269.64 558.3L270.44 560.7L271.24 561.5M273.64 561.5L274.44 560.7L275.24 558.3L275.24 554.3L274.44 551.9L273.64 551.1M281.64 551.1L280.04 551.9L279.24 553.5L280.04 555.1L281.64 555.9L284.04 555.9L285.64 555.1L286.44 553.5L285.64 551.9L284.04 551.1L281.64 551.1M281.64 551.1L280.84 551.9L280.04 553.5L280.84 555.1L281.64 555.9M284.04 555.9L284.84 555.1L285.64 553.5L284.84 551.9L284.04 551.1M281.64 555.9L280.04 556.7L279.24 558.3L279.24 559.1L280.04 560.7L281.64 561.5L284.04 561.5L285.64 560.7L286.44 559.1L286.44 558.3L285.64 556.7L284.04 555.9M281.64 555.9L280.84 556.7L280.04 558.3L280.04 559.1L280.84 560.7L281.64 561.5M284.04 561.5L284.84 560.7L285.64 559.1L285.64 558.3L284.84 556.7L284.04 555.9" stroke="#000" stroke-width="1.8"/>
<path d="M321.54 552.7L321.54 553.5L320.74 553.5L320.74 552.7L321.54 551.9L323.14 551.1L325.54 551.1L327.14 551.9L327.94 553.5L327.14 555.1L325.54 555.9L323.14 556.7L321.54 557.5L320.74 559.1L320.74 561.5M325.54 551.1L326.34 551.9L327.14 553.5L326.34 555.1L325.54 555.9M320.74 560.7L321.54 559.9L322.34 559.9L324.74 560.7L327.14 560.7L327.94 559.9M322.34 559.9L324.74 561.5L327.14 561.5L327.94 559.9L327.94 559.1M333.54 551.1L331.94 551.9L331.14 554.3L331.14 558.3L331.94 560.7L333.54 561.5L335.94 561.5L337.54 560.7L338.34 558.3L338.34 554.3L337.54 551.9L335.94 551.1L333.54 551.1M333.54 551.1L332.74 551.9L331.94 554.3L331.94 558.3L332.74 560.7L333.54 561.5M335.94 561.5L336.74 560.7L337.54 558.3L337.54 554.3L336.74 551.9L335.94 551.1M343.14 553.5L345.54 551.1L345.54 561.5M344.74 551.9L344.74 561.5M342.34 561.5L347.94 561.5M354.34 551.1L352.74 551.9L351.94 554.3L351.94 558.3L352.74 560.7L354.34 561.5L356.74 561.5L358.34 560.7L359.14 558.3L359.14 554.3L358.34 551.9L356.74 551.1L354.34 551.1M354.34 551.1L353.54 551.9L352.74 554.3L352.74 558.3L353.54 560.7L354.34 561.5M356.74 561.5L357.54 560.7L358.34 558.3L358.34 554.3L357.54 551.9L356.74 551.1" stroke="#000" stroke-width="1.8"/>
<path d="M394.25 552.7L394.25 553.5L393.45 553.5L393.45 552.7L394.25 551.9L395.85 551.1L398.25 551.1L399.85 551.9L400.65 553.5L399.85 555.1L398.25 555.9L395.85 556.7L394.25 557.5L393.45 559.1L393.45 561.5M398.25 551.1L399.05 551.9L399.85 553.5L399.05 555.1L398.25 555.9M393.45 560.7L394.25 559.9L395.05 559.9L397.45 560.7L399.85 560.7L400.65 559.9M395.05 559.9L397.45 561.5L399.85 561.5L400.65 559.9L400.65 559.1M406.25 551.1L404.65 551.9L403.85 554.3L403.85 558.3L404.65 560.7L406.25 561.5L408.65 561.5L410.25 560.7L411.05 558.3L411.05 554.3L410.25 551.9L408.65 551.1L406.25 551.1M406.25 551.1L405.45 551.9L404.65 554.3L404.65 558.3L405.45 560.7L406.25 561.5M408.65 561.5L409.45 560.7L410.25 558.3L410.25 554.3L409.45 551.9L408.65 551.1M415.85 553.5L418.25 551.1L418.25 561.5M417.45 551.9L417.45 561.5M415.05 561.5L420.65 561.5M425.45 552.7L425.45 553.5L424.65 553.5L424.65 552.7L425.45 551.9L427.05 551.1L429.45 551.1L431.05 551.9L431.85 553.5L431.05 555.1L429.45 555.9L427.05 556.7L425.45 557.5L424.65 559.1L424.65 561.5M429.45 551.1L430.25 551.9L431.05 553.5L430.25 555.1L429.45 555.9M424.65 560.7L425.45 559.9L426.25 559.9L428.65 560.7L431.05 560.7L431.85 559.9M426.25 559.9L428.65 561.5L431.05 561.5L431.85 559.9L431.85 559.1" stroke="#000" stroke-width="1.8"/>
<path d="M241.41 571.6L244.35 577.2L244.35 582M242.14 571.6L245.08 577.2M248.02 571.6L245.08 577.2L245.08 582M239.94 571.6L243.61 571.6M245.82 571.6L249.49 571.6M242.88 582L246.55 582M251.7 578L256.84 578L256.84 577.2L256.11 575.6L254.64 574.8L253.17 574.8L251.7 575.6L250.96 577.2L250.96 579.6L251.7 581.2L253.17 582L254.64 582L256.11 581.2L256.84 580.4M256.11 578L256.11 576.4L254.64 574.8M253.17 574.8L252.43 575.6L251.7 577.2L251.7 579.6L252.43 581.2L253.17 582M261.99 574.8L261.25 575.6L261.25 576.4L260.52 576.4L260.52 575.6L261.99 574.8L264.19 574.8L265.66 576.4L265.66 581.2L266.4 582L267.13 582M264.19 574.8L264.93 576.4L264.93 581.2L266.4 582M264.93 577.2L262.72 578L261.25 578.8L260.52 579.6L260.52 581.2L261.25 582L263.46 582L264.19 581.2L264.93 579.6M262.72 578L261.25 579.6L261.25 581.2L261.99 582M271.54 574.8L271.54 582M272.28 574.8L272.28 582M272.28 577.2L273.01 575.6L274.48 574.8L275.95 574.8L276.69 575.6L276.69 576.4L275.95 576.4L275.95 575.6L276.69 575.6M270.07 574.8L272.28 574.8M270.07 582L273.75 582" stroke="#000" stroke-width="1.8"/>
<path d="M485.13 552.7L485.13 553.5L484.33 553.5L484.33 552.7L485.13 551.9L486.73 551.1L489.13 551.1L490.73 551.9L491.53 553.5L490.73 555.1L489.13 555.9L486.73 556.7L485.13 557.5L484.33 559.1L484.33 561.5M489.13 551.1L489.93 551.9L490.73 553.5L489.93 555.1L489.13 555.9M484.33 560.7L485.13 559.9L485.93 559.9L488.33 560.7L490.73 560.7L491.53 559.9M485.93 559.9L488.33 561.5L490.73 561.5L491.53 559.9L491.53 559.1M497.13 551.1L495.53 551.9L494.73 554.3L494.73 558.3L495.53 560.7L497.13 561.5L499.53 561.5L501.13 560.7L501.93 558.3L501.93 554.3L501.13 551.9L499.53 551.1L497.13 551.1M497.13 551.1L496.33 551.9L495.53 554.3L495.53 558.3L496.33 560.7L497.13 561.5M499.53 561.5L500.33 560.7L501.13 558.3L501.13 554.3L500.33 551.9L499.53 551.1M507.53 551.1L505.93 551.9L505.13 554.3L505.13 558.3L505.93 560.7L507.53 561.5L509.93 561.5L511.53 560.7L512.33 558.3L512.33 554.3L511.53 551.9L509.93 551.1L507.53 551.1M507.53 551.1L506.73 551.9L505.93 554.3L505.93 558.3L506.73 560.7L507.53 561.5M509.93 561.5L510.73 560.7L511.53 558.3L511.53 554.3L510.73 551.9L509.93 551.1M519.53 552.7L519.53 561.5M520.33 551.1L520.33 561.5M520.33 551.1L514.73 558.3L523.53 558.3M517.93 561.5L521.93 561.5" stroke="#000" stroke-width="1.8"/>
<path d="M557.83 552.7L557.83 553.5L557.03 553.5L557.03 552.7L557.83 551.9L559.43 551.1L561.83 551.1L563.43 551.9L564.23 553.5L563.43 555.1L561.83 555.9L559.43 556.7L557.83 557.5L557.03 559.1L557.03 561.5M561.83 551.1L562.63 551.9L563.43 553.5L562.63 555.1L561.83 555.9M557.03 560.7L557.83 559.9L558.63 559.9L561.03 560.7L563.43 560.7L564.23 559.9M558.63 559.9L561.03 561.5L563.43 561.5L564.23 559.9L564.23 559.1M569.83 551.1L568.23 551.9L567.43 554.3L567.43 558.3L568.23 560.7L569.83 561.5L572.23 561.5L573.83 560.7L574.63 558.3L574.63 554.3L573.83 551.9L572.23 551.1L569.83 551.1M569.83 551.1L569.03 551.9L568.23 554.3L568.23 558.3L569.03 560.7L569.83 561.5M572.23 561.5L573.03 560.7L573.83 558.3L573.83 554.3L573.03 551.9L572.23 551.1M580.23 551.1L578.63 551.9L577.83 554.3L577.83 558.3L578.63 560.7L580.23 561.5L582.63 561.5L584.23 560.7L585.03 558.3L585.03 554.3L584.23 551.9L582.63 551.1L580.23 551.1M580.23 551.1L579.43 551.9L578.63 554.3L578.63 558.3L579.43 560.7L580.23 561.5M582.63 561.5L583.43 560.7L584.23 558.3L584.23 554.3L583.43 551.9L582.63 551.1M594.63 552.7L594.63 553.5L595.43 553.5L595.43 552.7L594.63 551.9L593.03 551.1L591.43 551.1L589.83 551.9L589.03 552.7L588.23 555.1L588.23 559.1L589.03 560.7L590.63 561.5L593.03 561.5L594.63 560.7L595.43 559.1L595.43 557.5L594.63 555.9L593.03 555.1L590.63 555.1L588.23 556.7M591.43 551.1L589.83 552.7L589.03 555.1L589.03 559.1L589.83 560.7L590.63 561.5M593.03 561.5L593.83 560.7L594.63 559.1L594.63 557.5L593.83 555.9L593.03 555.1" stroke="#000" stroke-width="1.8"/>
<path d="M630.54 552.7L630.54 553.5L629.74 553.5L629.74 552.7L630.54 551.9L632.14 551.1L634.54 551.1L636.14 551.9L636.94 553.5L636.14 555.1L634.54 555.9L632.14 556.7L630.54 557.5L629.74 559.1L629.74 561.5M634.54 551.1L635.34 551.9L636.14 553.5L635.34 555.1L634.54 555.9M629.74 560.7L630.54 559.9L631.34 559.9L633.74 560.7L636.14 560.7L636.94 559.9M631.34 559.9L633.74 561.5L636.14 561.5L636.94 559.9L636.94 559.1M642.54 551.1L640.94 551.9L640.14 554.3L640.14 558.3L640.94 560.7L642.54 561.5L644.94 561.5L646.54 560.7L647.34 558.3L647.34 554.3L646.54 551.9L644.94 551.1L642.54 551.1M642.54 551.1L641.74 551.9L640.94 554.3L640.94 558.3L641.74 560.7L642.54 561.5M644.94 561.5L645.74 560.7L646.54 558.3L646.54 554.3L645.74 551.9L644.94 551.1M652.94 551.1L651.34 551.9L650.54 554.3L650.54 558.3L651.34 560.7L652.94 561.5L655.34 561.5L656.94 560.7L657.74 558.3L657.74 554.3L656.94 551.9L655.34 551.1L652.94 551.1M652.94 551.1L652.14 551.9L651.34 554.3L651.34 558.3L652.14 560.7L652.94 561.5M655.34 561.5L656.14 560.7L656.94 558.3L656.94 554.3L656.14 551.9L655.34 551.1M663.34 551.1L661.74 551.9L660.94 553.5L661.74 555.1L663.34 555.9L665.74 555.9L667.34 555.1L668.14 553.5L667.34 551.9L665.74 551.1L663.34 551.1M663.34 551.1L662.54 551.9L661.74 553.5L662.54 555.1L663.34 555.9M665.74 555.9L666.54 555.1L667.34 553.5L666.54 551.9L665.74 551.1M663.34 555.9L661.74 556.7L660.94 558.3L660.94 559.1L661.74 560.7L663.34 561.5L665.74 561.5L667.34 560.7L668.14 559.1L668.14 558.3L667.34 556.7L665.74 555.9M663.34 555.9L662.54 556.7L661.74 558.3L661.74 559.1L662.54 560.7L663.34 561.5M665.74 561.5L666.54 560.7L667.34 559.1L667.34 558.3L666.54 556.7L665.74 555.9" stroke="#000" stroke-width="1.8"/>
<path d="M703.24 552.7L703.24 553.5L702.44 553.5L702.44 552.7L703.24 551.9L704.84 551.1L707.24 551.1L708.84 551.9L709.64 553.5L708.84 555.1L707.24 555.9L704.84 556.7L703.24 557.5L702.44 559.1L702.44 561.5M707.24 551.1L708.04 551.9L708.84 553.5L708.04 555.1L707.24 555.9M702.44 560.7L703.24 559.9L704.04 559.9L706.44 560.7L708.84 560.7L709.64 559.9M704.04 559.9L706.44 561.5L708.84 561.5L709.64 559.9L709.64 559.1M715.24 551.1L713.64 551.9L712.84 554.3L712.84 558.3L713.64 560.7L715.24 561.5L717.64 561.5L719.24 560.7L720.04 558.3L720.04 554.3L719.24 551.9L717.64 551.1L715.24 551.1M715.24 551.1L714.44 551.9L713.64 554.3L713.64 558.3L714.44 560.7L715.24 561.5M717.64 561.5L718.44 560.7L719.24 558.3L719.24 554.3L718.44 551.9L717.64 551.1M724.84 553.5L727.24 551.1L727.24 561.5M726.44 551.9L726.44 561.5M724.04 561.5L729.64 561.5M736.04 551.1L734.44 551.9L733.64 554.3L733.64 558.3L734.44 560.7L736.04 561.5L738.44 561.5L740.04 560.7L740.84 558.3L740.84 554.3L740.04 551.9L738.44 551.1L736.04 551.1M736.04 551.1L735.24 551.9L734.44 554.3L734.44 558.3L735.24 560.7L736.04 561.5M738.44 561.5L739.24 560.7L740.04 558.3L740.04 554.3L739.24 551.9L738.44 551.1" stroke="#000" stroke-width="1.8"/>
<path d="M775.95 552.7L775.95 553.5L775.15 553.5L775.15 552.7L775.95 551.9L777.55 551.1L779.95 551.1L781.55 551.9L782.35 553.5L781.55 555.1L779.95 555.9L777.55 556.7L775.95 557.5L775.15 559.1L775.15 561.5M779.95 551.1L780.75 551.9L781.55 553.5L780.75 555.1L779.95 555.9M775.15 560.7L775.95 559.9L776.75 559.9L779.15 560.7L781.55 560.7L782.35 559.9M776.75 559.9L779.15 561.5L781.55 561.5L782.35 559.9L782.35 559.1M787.95 551.1L786.35 551.9L785.55 554.3L785.55 558.3L786.35 560.7L787.95 561.5L790.35 561.5L791.95 560.7L792.75 558.3L792.75 554.3L791.95 551.9L790.35 551.1L787.95 551.1M787.95 551.1L787.15 551.9L786.35 554.3L786.35 558.3L787.15 560.7L787.95 561.5M790.35 561.5L791.15 560.7L791.95 558.3L791.95 554.3L791.15 551.9L790.35 551.1M797.55 553.5L799.95 551.1L799.95 561.5M799.15 551.9L799.15 561.5M796.75 561.5L802.35 561.5M807.15 552.7L807.15 553.5L806.35 553.5L806.35 552.7L807.15 551.9L808.75 551.1L811.15 551.1L812.75 551.9L813.55 553.5L812.75 555.1L811.15 555.9L808.75 556.7L807.15 557.5L806.35 559.1L806.35 561.5M811.15 551.1L811.95 551.9L812.75 553.5L811.95 555.1L811.15 555.9M806.35 560.7L807.15 559.9L807.95 559.9L810.35 560.7L812.75 560.7L813.55 559.9M807.95 559.9L810.35 561.5L812.75 561.5L813.55 559.9L813.55 559.1" stroke="#000" stroke-width="1.8"/>
<path d="M623.11 571.6L626.05 577.2L626.05 582M623.85 571.6L626.78 577.2M629.73 571.6L626.78 577.2L626.78 582M621.64 571.6L625.31 571.6M627.52 571.6L631.19 571.6M624.58 582L628.25 582M633.4 578L638.54 578L638.54 577.2L637.81 575.6L636.34 574.8L634.87 574.8L633.4 575.6L632.66 577.2L632.66 579.6L633.4 581.2L634.87 582L636.34 582L637.81 581.2L638.54 580.4M637.81 578L637.81 576.4L636.34 574.8M634.87 574.8L634.13 575.6L633.4 577.2L633.4 579.6L634.13 581.2L634.87 582M643.69 574.8L642.96 575.6L642.96 576.4L642.22 576.4L642.22 575.6L643.69 574.8L645.89 574.8L647.37 576.4L647.37 581.2L648.1 582L648.84 582M645.89 574.8L646.63 576.4L646.63 581.2L648.1 582M646.63 577.2L644.42 578L642.96 578.8L642.22 579.6L642.22 581.2L642.96 582L645.16 582L645.89 581.2L646.63 579.6M644.42 578L642.96 579.6L642.96 581.2L643.69 582M653.25 574.8L653.25 582M653.98 574.8L653.98 582M653.98 577.2L654.71 575.6L656.18 574.8L657.65 574.8L658.39 575.6L658.39 576.4L657.65 576.4L657.65 575.6L658.39 575.6M651.77 574.8L653.98 574.8M651.77 582L655.45 582" stroke="#000" stroke-width="1.8"/>
<path d="M-29.16 -10.4L-30.6 -9.6L-31.32 -8.8L-32.04 -6.4L-32.04 -4L-31.32 -1.6L-30.6 -0.8L-29.16 0L-27 0L-25.56 -0.8L-24.84 -1.6L-24.12 -4L-24.12 -6.4L-24.84 -8.8L-25.56 -9.6L-27 -10.4L-29.16 -10.4M-29.16 -10.4L-30.6 -8.8L-31.32 -6.4L-31.32 -4L-30.6 -1.6L-29.16 0M-27 0L-25.56 -1.6L-24.84 -4L-24.84 -6.4L-25.56 -8.8L-27 -10.4M-20.52 -4.8L-11.88 -4.8M-1.8 -9.6L-1.08 -10.4L-1.08 -7.2L-1.8 -9.6L-3.24 -10.4L-5.4 -10.4L-6.84 -9.6L-7.56 -8.8L-8.28 -6.4L-8.28 -4L-7.56 -1.6L-6.84 -0.8L-5.4 0L-3.24 0L-1.8 -0.8L-1.08 -2.4M-5.4 -10.4L-6.84 -8.8L-7.56 -6.4L-7.56 -4L-6.84 -1.6L-5.4 0M15.48 -12.8L14.04 -11.2L12.6 -8.8L11.88 -6.4L11.88 -3.2L12.6 -0.8L14.04 1.6L15.48 3.2M14.04 -11.2L13.32 -9.6L12.6 -6.4L12.6 -3.2L13.32 0L14.04 1.6M22.68 -7.2L23.4 -6.4L23.4 -5.6L24.12 -5.6L24.12 -6.4L22.68 -7.2L20.52 -7.2L19.08 -6.4L19.08 -4.8L20.52 -4L22.68 -3.2L24.12 -2.4M19.08 -5.6L20.52 -4.8L22.68 -4L24.12 -3.2L24.12 -0.8L22.68 0L20.52 0L19.08 -0.8L19.08 -1.6L19.8 -1.6L19.8 -0.8L20.52 0M27.72 -12.8L29.16 -11.2L30.6 -8.8L31.32 -6.4L31.32 -3.2L30.6 -0.8L29.16 1.6L27.72 3.2M29.16 -11.2L29.88 -9.6L30.6 -6.4L30.6 -3.2L29.88 0L29.16 1.6" transform="translate(13.5 135.3) rotate(-90)" stroke="#000" stroke-width="1.8"/>
<path d="M-29.16 -10.4L-30.6 -9.6L-31.32 -8.8L-32.04 -6.4L-32.04 -4L-31.32 -1.6L-30.6 -0.8L-29.16 0L-27 0L-25.56 -0.8L-24.84 -1.6L-24.12 -4L-24.12 -6.4L-24.84 -8.8L-25.56 -9.6L-27 -10.4L-29.16 -10.4M-29.16 -10.4L-30.6 -8.8L-31.32 -6.4L-31.32 -4L-30.6 -1.6L-29.16 0M-27 0L-25.56 -1.6L-24.84 -4L-24.84 -6.4L-25.56 -8.8L-27 -10.4M-20.52 -4.8L-11.88 -4.8M-1.8 -9.6L-1.08 -10.4L-1.08 -7.2L-1.8 -9.6L-3.24 -10.4L-5.4 -10.4L-6.84 -9.6L-7.56 -8.8L-8.28 -6.4L-8.28 -4L-7.56 -1.6L-6.84 -0.8L-5.4 0L-3.24 0L-1.8 -0.8L-1.08 -2.4M-5.4 -10.4L-6.84 -8.8L-7.56 -6.4L-7.56 -4L-6.84 -1.6L-5.4 0M15.48 -12.8L14.04 -11.2L12.6 -8.8L11.88 -6.4L11.88 -3.2L12.6 -0.8L14.04 1.6L15.48 3.2M14.04 -11.2L13.32 -9.6L12.6 -6.4L12.6 -3.2L13.32 0L14.04 1.6M22.68 -7.2L23.4 -6.4L23.4 -5.6L24.12 -5.6L24.12 -6.4L22.68 -7.2L20.52 -7.2L19.08 -6.4L19.08 -4.8L20.52 -4L22.68 -3.2L24.12 -2.4M19.08 -5.6L20.52 -4.8L22.68 -4L24.12 -3.2L24.12 -0.8L22.68 0L20.52 0L19.08 -0.8L19.08 -1.6L19.8 -1.6L19.8 -0.8L20.52 0M27.72 -12.8L29.16 -11.2L30.6 -8.8L31.32 -6.4L31.32 -3.2L30.6 -0.8L29.16 1.6L27.72 3.2M29.16 -11.2L29.88 -9.6L30.6 -6.4L30.6 -3.2L29.88 0L29.16 1.6" transform="translate(13.5 405.8) rotate(-90)" stroke="#000" stroke-width="1.8"/></g>
<path d="M102.55 34.7L101.83 35.43L102.55 36.15L103.27 35.43L103.27 34.7L102.55 33.98L101.1 33.98L99.65 34.7L98.92 36.15L98.92 49.2M101.1 33.98L100.38 34.7L99.65 36.15L99.65 49.2M96.75 39.05L102.55 39.05M96.75 49.2L101.83 49.2" stroke="#000" stroke-width="1.7"/>
<path d="M106.5 49.3L108.51 47.29L108.51 56M107.84 47.96L107.84 56M105.83 56L110.52 56" stroke="#000" stroke-width="1.75"/>
<path d="M116.51 39.05L115.78 39.78L116.51 40.5L117.23 39.78L116.51 39.05M116.51 47.75L115.78 48.48L116.51 49.2L117.23 48.48L116.51 47.75M134.63 36.88L135.36 37.6L134.63 38.33L133.91 37.6L133.91 36.88L134.63 35.43L135.36 34.7L137.53 33.98L140.43 33.98L142.61 34.7L143.33 35.43L144.06 36.88L144.06 38.33L143.33 39.78L141.16 41.23L137.53 42.68L136.08 43.4L134.63 44.85L133.91 47.03L133.91 49.2M140.43 33.98L141.88 34.7L142.61 35.43L143.33 36.88L143.33 38.33L142.61 39.78L140.43 41.23L137.53 42.68M133.91 47.75L134.63 47.03L136.08 47.03L139.71 48.48L141.88 48.48L143.33 47.75L144.06 47.03M136.08 47.03L139.71 49.2L142.61 49.2L143.33 48.48L144.06 47.03L144.06 45.58M157.83 39.05L157.11 41.23L155.66 42.68L153.48 43.4L152.76 43.4L150.58 42.68L149.13 41.23L148.41 39.05L148.41 38.33L149.13 36.15L150.58 34.7L152.76 33.98L154.21 33.98L156.38 34.7L157.83 36.15L158.56 38.33L158.56 42.68L157.83 45.58L157.11 47.03L155.66 48.48L153.48 49.2L151.31 49.2L149.86 48.48L149.13 47.03L149.13 46.3L149.86 45.58L150.58 46.3L149.86 47.03M152.76 43.4L151.31 42.68L149.86 41.23L149.13 39.05L149.13 38.33L149.86 36.15L151.31 34.7L152.76 33.98M154.21 33.98L155.66 34.7L157.11 36.15L157.83 38.33L157.83 42.68L157.11 45.58L156.38 47.03L154.93 48.48L153.48 49.2M163.63 36.88L164.36 37.6L163.63 38.33L162.91 37.6L162.91 36.88L163.63 35.43L164.36 34.7L166.53 33.98L169.43 33.98L171.61 34.7L172.33 35.43L173.06 36.88L173.06 38.33L172.33 39.78L170.16 41.23L166.53 42.68L165.08 43.4L163.63 44.85L162.91 47.03L162.91 49.2M169.43 33.98L170.88 34.7L171.61 35.43L172.33 36.88L172.33 38.33L171.61 39.78L169.43 41.23L166.53 42.68M162.91 47.75L163.63 47.03L165.08 47.03L168.71 48.48L170.88 48.48L172.33 47.75L173.06 47.03M165.08 47.03L168.71 49.2L171.61 49.2L172.33 48.48L173.06 47.03L173.06 45.58M178.86 47.75L178.13 48.48L178.86 49.2L179.58 48.48L178.86 47.75M194.08 39.05L193.36 41.23L191.91 42.68L189.73 43.4L189.01 43.4L186.83 42.68L185.38 41.23L184.66 39.05L184.66 38.33L185.38 36.15L186.83 34.7L189.01 33.98L190.46 33.98L192.63 34.7L194.08 36.15L194.81 38.33L194.81 42.68L194.08 45.58L193.36 47.03L191.91 48.48L189.73 49.2L187.56 49.2L186.11 48.48L185.38 47.03L185.38 46.3L186.11 45.58L186.83 46.3L186.11 47.03M189.01 43.4L187.56 42.68L186.11 41.23L185.38 39.05L185.38 38.33L186.11 36.15L187.56 34.7L189.01 33.98M190.46 33.98L191.91 34.7L193.36 36.15L194.08 38.33L194.08 42.68L193.36 45.58L192.63 47.03L191.18 48.48L189.73 49.2M218.01 40.5L218.73 39.05L218.73 41.95L218.01 40.5L217.28 39.78L215.83 39.05L212.93 39.05L211.48 39.78L210.76 40.5L210.76 41.95L211.48 42.68L212.93 43.4L216.56 44.85L218.01 45.58L218.73 46.3M210.76 41.23L211.48 41.95L212.93 42.68L216.56 44.12L218.01 44.85L218.73 45.58L218.73 47.75L218.01 48.48L216.56 49.2L213.66 49.2L212.21 48.48L211.48 47.75L210.76 46.3L210.76 49.2L211.48 47.75" stroke="#000" stroke-width="1.7"/>
<path d="M101.2 72.43L101.2 81.4M101.84 72.43L101.84 81.4M101.2 77.26L100.56 75.88L99.28 75.19L98 75.19L96.72 75.88L96.08 77.26L96.08 79.33L96.72 80.71L98 81.4L99.28 81.4L100.56 80.71L101.2 79.33M98 75.19L97.36 75.88L96.72 77.26L96.72 79.33L97.36 80.71L98 81.4M99.92 72.43L101.84 72.43M101.2 81.4L103.12 81.4M106.96 72.43L106.96 81.4M107.6 72.43L107.6 81.4M105.68 72.43L110.16 72.43L112.08 73.12L112.72 74.5L112.72 75.19L112.08 76.57L110.16 77.26L107.6 77.26M110.16 72.43L111.44 73.12L112.08 74.5L112.08 75.19L111.44 76.57L110.16 77.26M105.68 81.4L108.88 81.4M122.32 70.36L115.28 84.16M130 72.43L130 81.4M130.64 72.43L130.64 81.4M130 77.26L129.36 75.88L128.08 75.19L126.8 75.19L125.52 75.88L124.88 77.26L124.88 79.33L125.52 80.71L126.8 81.4L128.08 81.4L129.36 80.71L130 79.33M126.8 75.19L126.16 75.88L125.52 77.26L125.52 79.33L126.16 80.71L126.8 81.4M128.72 72.43L130.64 72.43M130 81.4L131.92 81.4M135.76 72.43L135.76 80.02L137.04 81.4L138.32 81.4L138.96 80.71L138.96 80.02M136.4 72.43L136.4 80.02L137.04 81.4M134.48 75.19L138.32 75.19" stroke="#000" stroke-width="1.65"/>
<path d="M150.49 75.88L157.4 75.88M150.49 78.64L157.4 78.64" stroke="#000" stroke-width="1.65"/>
<path d="M172.41 73.81L172.41 81.4M173.07 72.43L173.07 81.4M173.07 72.43L168.46 78.64L175.71 78.64M171.1 81.4L174.39 81.4M179.01 80.02L178.35 80.71L179.01 81.4L179.67 80.71L179.01 80.02M183.62 73.81L183.62 74.5L182.96 74.5L182.96 73.81L183.62 73.12L184.94 72.43L186.92 72.43L188.24 73.12L188.89 74.5L188.24 75.88L186.92 76.57L184.94 77.26L183.62 77.95L182.96 79.33L182.96 81.4M186.92 72.43L187.58 73.12L188.24 74.5L187.58 75.88L186.92 76.57M182.96 80.71L183.62 80.02L184.28 80.02L186.26 80.71L188.24 80.71L188.89 80.02M184.28 80.02L186.26 81.4L188.24 81.4L188.89 80.02L188.89 79.33M193.51 72.43L192.19 73.12L191.53 74.5L192.19 75.88L193.51 76.57L195.49 76.57L196.8 75.88L197.46 74.5L196.8 73.12L195.49 72.43L193.51 72.43M193.51 72.43L192.85 73.12L192.19 74.5L192.85 75.88L193.51 76.57M195.49 76.57L196.15 75.88L196.8 74.5L196.15 73.12L195.49 72.43M193.51 76.57L192.19 77.26L191.53 78.64L191.53 79.33L192.19 80.71L193.51 81.4L195.49 81.4L196.8 80.71L197.46 79.33L197.46 78.64L196.8 77.26L195.49 76.57M193.51 76.57L192.85 77.26L192.19 78.64L192.19 79.33L192.85 80.71L193.51 81.4M195.49 81.4L196.15 80.71L196.8 79.33L196.8 78.64L196.15 77.26L195.49 76.57M202.08 72.43L200.76 73.12L200.1 75.19L200.1 78.64L200.76 80.71L202.08 81.4L204.06 81.4L205.37 80.71L206.03 78.64L206.03 75.19L205.37 73.12L204.06 72.43L202.08 72.43M202.08 72.43L201.42 73.12L200.76 75.19L200.76 78.64L201.42 80.71L202.08 81.4M204.06 81.4L204.72 80.71L205.37 78.64L205.37 75.19L204.72 73.12L204.06 72.43" stroke="#000" stroke-width="1.65"/>
<path d="M213.88 70.36L212.51 71.74L211.14 73.81L210.45 75.88L210.45 78.64L211.14 80.71L212.51 82.78L213.88 84.16M212.51 71.74L211.82 73.12L211.14 75.88L211.14 78.64L211.82 81.4L212.51 82.78M220.04 73.81L220.04 81.4M220.73 72.43L220.73 81.4M220.73 72.43L215.93 78.64L223.47 78.64M218.67 81.4L222.1 81.4M226.2 73.81L226.2 74.5L225.52 74.5L225.52 73.81L226.2 73.12L227.57 72.43L229.63 72.43L231 73.12L231.68 74.5L231 75.88L229.63 76.57L227.57 77.26L226.2 77.95L225.52 79.33L225.52 81.4M229.63 72.43L230.31 73.12L231 74.5L230.31 75.88L229.63 76.57M225.52 80.71L226.2 80.02L226.89 80.02L228.94 80.71L231 80.71L231.68 80.02M226.89 80.02L228.94 81.4L231 81.4L231.68 80.02L231.68 79.33M234.42 70.36L235.79 71.74L237.16 73.81L237.85 75.88L237.85 78.64L237.16 80.71L235.79 82.78L234.42 84.16M235.79 71.74L236.48 73.12L237.16 75.88L237.16 78.64L236.48 81.4L235.79 82.78" stroke="#000" stroke-width="1.65"/>
<path d="M242.9 72.43L242.9 81.4M243.54 72.43L243.54 81.4M246.1 75.19L246.1 77.95M241.62 72.43L248.02 72.43L248.02 75.19L247.38 72.43M243.54 76.57L246.1 76.57M241.62 81.4L248.02 81.4L248.02 78.64L247.38 81.4" stroke="#000" stroke-width="1.65"/>
<path d="M252.31 77.26L258.99 77.26" stroke="#000" stroke-width="1.65"/>
<path d="M264.72 74.5L266.72 72.43L266.72 81.4M266.05 73.12L266.05 81.4M264.06 81.4L268.72 81.4M272.71 73.81L272.71 74.5L272.04 74.5L272.04 73.81L272.71 73.12L274.04 72.43L276.04 72.43L277.37 73.12L278.03 74.5L277.37 75.88L276.04 76.57L274.04 77.26L272.71 77.95L272.04 79.33L272.04 81.4M276.04 72.43L276.7 73.12L277.37 74.5L276.7 75.88L276.04 76.57M272.04 80.71L272.71 80.02L273.38 80.02L275.37 80.71L277.37 80.71L278.03 80.02M273.38 80.02L275.37 81.4L277.37 81.4L278.03 80.02L278.03 79.33" stroke="#000" stroke-width="1.65"/>
<path d="M291.64 75.19L292.28 75.88L292.28 76.57L292.92 76.57L292.92 75.88L291.64 75.19L289.72 75.19L288.44 75.88L288.44 77.26L289.72 77.95L291.64 78.64L292.92 79.33M288.44 76.57L289.72 77.26L291.64 77.95L292.92 78.64L292.92 80.71L291.64 81.4L289.72 81.4L288.44 80.71L288.44 80.02L289.08 80.02L289.08 80.71L289.72 81.4" stroke="#000" stroke-width="1.65"/>
<path d="M306.48 75.19L307.12 75.88L307.12 76.57L307.76 76.57L307.76 75.88L306.48 75.19L304.56 75.19L303.28 75.88L303.28 77.26L304.56 77.95L306.48 78.64L307.76 79.33M303.28 76.57L304.56 77.26L306.48 77.95L307.76 78.64L307.76 80.71L306.48 81.4L304.56 81.4L303.28 80.71L303.28 80.02L303.92 80.02L303.92 80.71L304.56 81.4" stroke="#000" stroke-width="1.65"/>
<path d="M309.69 73.59L312.93 73.59" stroke="#000" stroke-width="1.5"/>
<path d="M316.38 71.85L317.68 70.54L317.68 76.2M317.25 70.98L317.25 76.2M315.94 76.2L318.99 76.2" stroke="#000" stroke-width="1.7"/>
<path d="M97.26 99.43L97.26 108.4M97.9 99.43L97.9 108.4M95.98 99.43L100.46 99.43L102.38 100.12L103.02 101.5L103.02 102.19L102.38 103.57L100.46 104.26L97.9 104.26M100.46 99.43L101.74 100.12L102.38 101.5L102.38 102.19L101.74 103.57L100.46 104.26M95.98 108.4L99.18 108.4M112.62 97.36L105.58 111.16" stroke="#000" stroke-width="1.65"/>
<path d="M117.46 99.43L117.46 108.4M118.1 99.43L118.1 108.4M116.18 99.43L120.66 99.43L122.58 100.12L123.22 101.5L123.22 102.19L122.58 103.57L120.66 104.26L118.1 104.26M120.66 99.43L121.94 100.12L122.58 101.5L122.58 102.19L121.94 103.57L120.66 104.26M116.18 108.4L119.38 108.4" stroke="#000" stroke-width="1.65"/>
<rect x="118.1" y="95.1" width="2.1" height="1.6" fill="#000" stroke="none"/>
<path d="M134.35 102.88L141.26 102.88M134.35 105.64L141.26 105.64" stroke="#000" stroke-width="1.65"/>
<path d="M153.14 100.81L153.14 101.5L152.48 101.5L152.48 100.81L153.14 100.12L154.46 99.43L156.43 99.43L157.75 100.12L158.41 101.5L157.75 102.88L156.43 103.57L154.46 104.26L153.14 104.95L152.48 106.33L152.48 108.4M156.43 99.43L157.09 100.12L157.75 101.5L157.09 102.88L156.43 103.57M152.48 107.71L153.14 107.02L153.8 107.02L155.77 107.71L157.75 107.71L158.41 107.02M153.8 107.02L155.77 108.4L157.75 108.4L158.41 107.02L158.41 106.33M162.37 107.02L161.71 107.71L162.37 108.4L163.03 107.71L162.37 107.02M167.64 101.5L169.62 99.43L169.62 108.4M168.96 100.12L168.96 108.4M166.98 108.4L171.6 108.4M180.16 100.81L180.16 101.5L180.82 101.5L180.82 100.81L180.16 100.12L178.85 99.43L177.53 99.43L176.21 100.12L175.55 100.81L174.89 102.88L174.89 106.33L175.55 107.71L176.87 108.4L178.85 108.4L180.16 107.71L180.82 106.33L180.82 104.95L180.16 103.57L178.85 102.88L176.87 102.88L174.89 104.26M177.53 99.43L176.21 100.81L175.55 102.88L175.55 106.33L176.21 107.71L176.87 108.4M178.85 108.4L179.51 107.71L180.16 106.33L180.16 104.95L179.51 103.57L178.85 102.88M184.12 107.02L184.12 106.33L183.46 106.33L183.46 107.02L184.12 107.71L185.44 108.4L186.76 108.4L188.08 107.71L188.73 107.02L189.39 104.95L189.39 101.5L188.73 100.12L187.42 99.43L185.44 99.43L184.12 100.12L183.46 101.5L183.46 102.88L184.12 104.26L185.44 104.95L187.42 104.95L189.39 103.57M186.76 108.4L188.08 107.02L188.73 104.95L188.73 101.5L188.08 100.12L187.42 99.43M185.44 99.43L184.78 100.12L184.12 101.5L184.12 102.88L184.78 104.26L185.44 104.95" stroke="#000" stroke-width="1.65"/>
<path d="M197.14 97.36L195.79 98.74L194.45 100.81L193.78 102.88L193.78 105.64L194.45 107.71L195.79 109.78L197.14 111.16M195.79 98.74L195.12 100.12L194.45 102.88L194.45 105.64L195.12 108.4L195.79 109.78M200.5 100.81L200.5 101.5L199.82 101.5L199.82 100.81L200.5 100.12L201.84 99.43L203.86 99.43L205.2 100.12L205.87 101.5L205.2 102.88L203.86 103.57L201.84 104.26L200.5 104.95L199.82 106.33L199.82 108.4M203.86 99.43L204.53 100.12L205.2 101.5L204.53 102.88L203.86 103.57M199.82 107.71L200.5 107.02L201.17 107.02L203.18 107.71L205.2 107.71L205.87 107.02M201.17 107.02L203.18 108.4L205.2 108.4L205.87 107.02L205.87 106.33M209.9 101.5L211.92 99.43L211.92 108.4M211.25 100.12L211.25 108.4M209.23 108.4L213.94 108.4M217.3 97.36L218.64 98.74L219.98 100.81L220.66 102.88L220.66 105.64L219.98 107.71L218.64 109.78L217.3 111.16M218.64 98.74L219.31 100.12L219.98 102.88L219.98 105.64L219.31 108.4L218.64 109.78" stroke="#000" stroke-width="1.65"/>
<path d="M233.88 99.43L233.88 108.4M234.49 101.5L236.95 108.4M234.49 99.43L236.95 106.33M240.02 99.43L236.95 108.4M240.02 99.43L240.02 108.4M240.64 99.43L240.64 108.4M232.65 99.43L234.49 99.43M240.02 99.43L241.86 99.43M232.65 108.4L235.11 108.4M238.79 108.4L241.86 108.4M244.94 102.19L247.39 108.4M245.55 102.19L247.39 107.02M249.85 102.19L247.39 108.4L246.17 110.47L244.94 111.16L244.32 111.16L243.71 110.47L243.71 109.78L244.32 109.78L244.32 110.47L243.71 110.47M243.71 102.19L246.78 102.19M248.62 102.19L251.08 102.19M254.15 102.19L254.15 108.4M254.77 102.19L254.77 108.4M254.77 104.26L255.38 102.88L256.61 102.19L257.84 102.19L258.45 102.88L258.45 103.57L257.84 103.57L257.84 102.88L258.45 102.88M252.92 102.19L254.77 102.19M252.92 108.4L256 108.4" stroke="#000" stroke-width="1.65"/>
<path d="M479.9 36.88L480.62 37.6L479.9 38.33L479.18 37.6L479.18 36.88L479.9 35.43L480.62 34.7L482.8 33.98L485.7 33.98L487.88 34.7L488.6 35.43L489.32 36.88L489.32 38.33L488.6 39.78L486.43 41.23L482.8 42.68L481.35 43.4L479.9 44.85L479.18 47.03L479.18 49.2M485.7 33.98L487.15 34.7L487.88 35.43L488.6 36.88L488.6 38.33L487.88 39.78L485.7 41.23L482.8 42.68M479.18 47.75L479.9 47.03L481.35 47.03L484.98 48.48L487.15 48.48L488.6 47.75L489.32 47.03M481.35 47.03L484.98 49.2L487.88 49.2L488.6 48.48L489.32 47.03L489.32 45.58M498.75 34.7L498.02 35.43L498.75 36.15L499.48 35.43L499.48 34.7L498.75 33.98L497.3 33.98L495.85 34.7L495.12 36.15L495.12 49.2M497.3 33.98L496.57 34.7L495.85 36.15L495.85 49.2M492.95 39.05L498.75 39.05M492.95 49.2L498.02 49.2" stroke="#00f" stroke-width="1.7"/>
<path d="M502.71 49.3L504.72 47.29L504.72 56M504.05 47.96L504.05 56M502.04 56L506.73 56" stroke="#00f" stroke-width="1.75"/>
<path d="M512.71 39.05L511.99 39.78L512.71 40.5L513.44 39.78L512.71 39.05M512.71 47.75L511.99 48.48L512.71 49.2L513.44 48.48L512.71 47.75M532.29 36.88L533.74 36.15L535.91 33.98L535.91 49.2M535.19 34.7L535.19 49.2M532.29 49.2L538.81 49.2M551.14 35.43L551.14 49.2M551.86 33.98L551.86 49.2M551.86 33.98L543.89 44.85L555.49 44.85M548.96 49.2L554.04 49.2M567.81 36.15L567.09 36.88L567.81 37.6L568.54 36.88L568.54 36.15L567.81 34.7L566.36 33.98L564.19 33.98L562.01 34.7L560.56 36.15L559.84 37.6L559.11 40.5L559.11 44.85L559.84 47.03L561.29 48.48L563.46 49.2L564.91 49.2L567.09 48.48L568.54 47.03L569.26 44.85L569.26 44.12L568.54 41.95L567.09 40.5L564.91 39.78L564.19 39.78L562.01 40.5L560.56 41.95L559.84 44.12M564.19 33.98L562.74 34.7L561.29 36.15L560.56 37.6L559.84 40.5L559.84 44.85L560.56 47.03L562.01 48.48L563.46 49.2M564.91 49.2L566.36 48.48L567.81 47.03L568.54 44.85L568.54 44.12L567.81 41.95L566.36 40.5L564.91 39.78M575.06 47.75L574.34 48.48L575.06 49.2L575.79 48.48L575.06 47.75M582.31 33.98L580.86 41.23M580.86 41.23L582.31 39.78L584.49 39.05L586.66 39.05L588.84 39.78L590.29 41.23L591.01 43.4L591.01 44.85L590.29 47.03L588.84 48.48L586.66 49.2L584.49 49.2L582.31 48.48L581.59 47.75L580.86 46.3L580.86 45.58L581.59 44.85L582.31 45.58L581.59 46.3M586.66 39.05L588.11 39.78L589.56 41.23L590.29 43.4L590.29 44.85L589.56 47.03L588.11 48.48L586.66 49.2M582.31 33.98L589.56 33.98M582.31 34.7L585.94 34.7L589.56 33.98M614.21 40.5L614.94 39.05L614.94 41.95L614.21 40.5L613.49 39.78L612.04 39.05L609.14 39.05L607.69 39.78L606.96 40.5L606.96 41.95L607.69 42.68L609.14 43.4L612.76 44.85L614.21 45.58L614.94 46.3M606.96 41.23L607.69 41.95L609.14 42.68L612.76 44.12L614.21 44.85L614.94 45.58L614.94 47.75L614.21 48.48L612.76 49.2L609.86 49.2L608.41 48.48L607.69 47.75L606.96 46.3L606.96 49.2L607.69 47.75" stroke="#00f" stroke-width="1.7"/>
<path d="M482.9 72.43L482.9 81.4M483.54 72.43L483.54 81.4M482.9 77.26L482.26 75.88L480.98 75.19L479.7 75.19L478.42 75.88L477.78 77.26L477.78 79.33L478.42 80.71L479.7 81.4L480.98 81.4L482.26 80.71L482.9 79.33M479.7 75.19L479.06 75.88L478.42 77.26L478.42 79.33L479.06 80.71L479.7 81.4M481.62 72.43L483.54 72.43M482.9 81.4L484.82 81.4M488.66 72.43L488.66 81.4M489.3 72.43L489.3 81.4M487.38 72.43L491.86 72.43L493.78 73.12L494.42 74.5L494.42 75.19L493.78 76.57L491.86 77.26L489.3 77.26M491.86 72.43L493.14 73.12L493.78 74.5L493.78 75.19L493.14 76.57L491.86 77.26M487.38 81.4L490.58 81.4M504.02 70.36L496.98 84.16M511.7 72.43L511.7 81.4M512.34 72.43L512.34 81.4M511.7 77.26L511.06 75.88L509.78 75.19L508.5 75.19L507.22 75.88L506.58 77.26L506.58 79.33L507.22 80.71L508.5 81.4L509.78 81.4L511.06 80.71L511.7 79.33M508.5 75.19L507.86 75.88L507.22 77.26L507.22 79.33L507.86 80.71L508.5 81.4M510.42 72.43L512.34 72.43M511.7 81.4L513.62 81.4M517.46 72.43L517.46 80.02L518.74 81.4L520.02 81.4L520.66 80.71L520.66 80.02M518.1 72.43L518.1 80.02L518.74 81.4M516.18 75.19L520.02 75.19" stroke="#00f" stroke-width="1.65"/>
<path d="M532.19 75.88L539.1 75.88M532.19 78.64L539.1 78.64" stroke="#00f" stroke-width="1.65"/>
<path d="M551.48 73.81L551.48 74.5L550.82 74.5L550.82 73.81L551.48 73.12L552.8 72.43L554.77 72.43L556.09 73.12L556.75 74.5L556.09 75.88L554.77 76.57L552.8 77.26L551.48 77.95L550.82 79.33L550.82 81.4M554.77 72.43L555.43 73.12L556.09 74.5L555.43 75.88L554.77 76.57M550.82 80.71L551.48 80.02L552.14 80.02L554.11 80.71L556.09 80.71L556.75 80.02M552.14 80.02L554.11 81.4L556.09 81.4L556.75 80.02L556.75 79.33M560.71 80.02L560.05 80.71L560.71 81.4L561.37 80.71L560.71 80.02M566.64 72.43L565.32 73.12L564.66 75.19L564.66 78.64L565.32 80.71L566.64 81.4L568.62 81.4L569.94 80.71L570.59 78.64L570.59 75.19L569.94 73.12L568.62 72.43L566.64 72.43M566.64 72.43L565.98 73.12L565.32 75.19L565.32 78.64L565.98 80.71L566.64 81.4M568.62 81.4L569.28 80.71L569.94 78.64L569.94 75.19L569.28 73.12L568.62 72.43M573.23 72.43L573.23 75.19M578.5 73.81L575.87 78.64L574.55 81.4M579.16 72.43L577.19 76.57L575.21 81.4M573.23 73.81L574.55 72.43L575.87 72.43L577.85 73.81M573.23 73.81L574.55 73.12L575.87 73.12L577.85 73.81L578.5 73.81M582.46 72.43L581.8 76.57M582.46 72.43L587.07 72.43M582.46 73.12L585.1 73.12L587.07 72.43M581.8 76.57L582.46 75.88L583.78 75.19L585.76 75.19L587.07 75.88L587.73 77.26L587.73 79.33L587.07 80.71L585.76 81.4L583.78 81.4L582.46 80.71L581.8 80.02L581.8 79.33L582.46 79.33L582.46 80.02M585.76 75.19L586.42 75.88L587.07 77.26L587.07 79.33L586.42 80.71L585.76 81.4" stroke="#00f" stroke-width="1.65"/>
<path d="M595.58 70.36L594.21 71.74L592.84 73.81L592.15 75.88L592.15 78.64L592.84 80.71L594.21 82.78L595.58 84.16M594.21 71.74L593.52 73.12L592.84 75.88L592.84 78.64L593.52 81.4L594.21 82.78M601.74 73.81L601.74 81.4M602.43 72.43L602.43 81.4M602.43 72.43L597.63 78.64L605.17 78.64M600.37 81.4L603.8 81.4M610.64 73.81L610.64 81.4M611.33 72.43L611.33 81.4M611.33 72.43L606.54 78.64L614.07 78.64M609.27 81.4L612.7 81.4M616.12 70.36L617.49 71.74L618.86 73.81L619.55 75.88L619.55 78.64L618.86 80.71L617.49 82.78L616.12 84.16M617.49 71.74L618.18 73.12L618.86 75.88L618.86 78.64L618.18 81.4L617.49 82.78" stroke="#00f" stroke-width="1.65"/>
<path d="M624.6 72.43L624.6 81.4M625.24 72.43L625.24 81.4M627.8 75.19L627.8 77.95M623.32 72.43L629.72 72.43L629.72 75.19L629.08 72.43M625.24 76.57L627.8 76.57M623.32 81.4L629.72 81.4L629.72 78.64L629.08 81.4" stroke="#00f" stroke-width="1.65"/>
<path d="M634.01 77.26L640.69 77.26" stroke="#00f" stroke-width="1.65"/>
<path d="M646.42 74.5L648.42 72.43L648.42 81.4M647.75 73.12L647.75 81.4M645.76 81.4L650.42 81.4M654.41 73.81L654.41 74.5L653.74 74.5L653.74 73.81L654.41 73.12L655.74 72.43L657.74 72.43L659.07 73.12L659.73 74.5L659.07 75.88L657.74 76.57L655.74 77.26L654.41 77.95L653.74 79.33L653.74 81.4M657.74 72.43L658.4 73.12L659.07 74.5L658.4 75.88L657.74 76.57M653.74 80.71L654.41 80.02L655.08 80.02L657.07 80.71L659.07 80.71L659.73 80.02M655.08 80.02L657.07 81.4L659.07 81.4L659.73 80.02L659.73 79.33" stroke="#00f" stroke-width="1.65"/>
<path d="M673.34 75.19L673.98 75.88L673.98 76.57L674.62 76.57L674.62 75.88L673.34 75.19L671.42 75.19L670.14 75.88L670.14 77.26L671.42 77.95L673.34 78.64L674.62 79.33M670.14 76.57L671.42 77.26L673.34 77.95L674.62 78.64L674.62 80.71L673.34 81.4L671.42 81.4L670.14 80.71L670.14 80.02L670.78 80.02L670.78 80.71L671.42 81.4" stroke="#00f" stroke-width="1.65"/>
<path d="M688.18 75.19L688.82 75.88L688.82 76.57L689.46 76.57L689.46 75.88L688.18 75.19L686.26 75.19L684.98 75.88L684.98 77.26L686.26 77.95L688.18 78.64L689.46 79.33M684.98 76.57L686.26 77.26L688.18 77.95L689.46 78.64L689.46 80.71L688.18 81.4L686.26 81.4L684.98 80.71L684.98 80.02L685.62 80.02L685.62 80.71L686.26 81.4" stroke="#00f" stroke-width="1.65"/>
<path d="M691.39 73.59L694.63 73.59" stroke="#00f" stroke-width="1.5"/>
<path d="M698.08 71.85L699.38 70.54L699.38 76.2M698.95 70.98L698.95 76.2M697.64 76.2L700.69 76.2" stroke="#00f" stroke-width="1.7"/>
<path d="M478.96 99.43L478.96 108.4M479.6 99.43L479.6 108.4M477.68 99.43L482.16 99.43L484.08 100.12L484.72 101.5L484.72 102.19L484.08 103.57L482.16 104.26L479.6 104.26M482.16 99.43L483.44 100.12L484.08 101.5L484.08 102.19L483.44 103.57L482.16 104.26M477.68 108.4L480.88 108.4M494.32 97.36L487.28 111.16" stroke="#00f" stroke-width="1.65"/>
<path d="M499.16 99.43L499.16 108.4M499.8 99.43L499.8 108.4M497.88 99.43L502.36 99.43L504.28 100.12L504.92 101.5L504.92 102.19L504.28 103.57L502.36 104.26L499.8 104.26M502.36 99.43L503.64 100.12L504.28 101.5L504.28 102.19L503.64 103.57L502.36 104.26M497.88 108.4L501.08 108.4" stroke="#00f" stroke-width="1.65"/>
<rect x="499.8" y="95.1" width="2.1" height="1.6" fill="#00f" stroke="none"/>
<path d="M516.05 102.88L522.96 102.88M516.05 105.64L522.96 105.64" stroke="#00f" stroke-width="1.65"/>
<path d="M534.84 100.81L534.84 101.5L534.18 101.5L534.18 100.81L534.84 100.12L536.16 99.43L538.13 99.43L539.45 100.12L540.11 101.5L539.45 102.88L538.13 103.57L536.16 104.26L534.84 104.95L534.18 106.33L534.18 108.4M538.13 99.43L538.79 100.12L539.45 101.5L538.79 102.88L538.13 103.57M534.18 107.71L534.84 107.02L535.5 107.02L537.47 107.71L539.45 107.71L540.11 107.02M535.5 107.02L537.47 108.4L539.45 108.4L540.11 107.02L540.11 106.33M544.07 107.02L543.41 107.71L544.07 108.4L544.73 107.71L544.07 107.02M548.68 100.81L548.68 101.5L548.02 101.5L548.02 100.81L548.68 100.12L550 99.43L551.98 99.43L553.3 100.12L553.95 101.5L553.3 102.88L551.98 103.57L550 104.26L548.68 104.95L548.02 106.33L548.02 108.4M551.98 99.43L552.64 100.12L553.3 101.5L552.64 102.88L551.98 103.57M548.02 107.71L548.68 107.02L549.34 107.02L551.32 107.71L553.3 107.71L553.95 107.02M549.34 107.02L551.32 108.4L553.3 108.4L553.95 107.02L553.95 106.33M557.25 100.81L557.25 101.5L556.59 101.5L556.59 100.81L557.25 100.12L558.57 99.43L560.55 99.43L561.86 100.12L562.52 101.5L561.86 102.88L560.55 103.57M560.55 99.43L561.21 100.12L561.86 101.5L561.21 102.88L560.55 103.57M559.23 103.57L560.55 103.57L561.86 104.26L562.52 105.64L562.52 106.33L561.86 107.71L560.55 108.4L558.57 108.4L557.25 107.71L556.59 107.02L556.59 106.33L557.25 106.33L557.25 107.02M560.55 103.57L561.21 104.26L561.86 105.64L561.86 106.33L561.21 107.71L560.55 108.4M565.16 99.43L565.16 102.19M570.43 100.81L567.8 105.64L566.48 108.4M571.09 99.43L569.12 103.57L567.14 108.4M565.16 100.81L566.48 99.43L567.8 99.43L569.78 100.81M565.16 100.81L566.48 100.12L567.8 100.12L569.78 100.81L570.43 100.81" stroke="#00f" stroke-width="1.65"/>
<path d="M578.84 97.36L577.49 98.74L576.15 100.81L575.48 102.88L575.48 105.64L576.15 107.71L577.49 109.78L578.84 111.16M577.49 98.74L576.82 100.12L576.15 102.88L576.15 105.64L576.82 108.4L577.49 109.78M584.88 100.81L584.88 108.4M585.56 99.43L585.56 108.4M585.56 99.43L580.85 105.64L588.24 105.64M583.54 108.4L586.9 108.4M595.64 100.81L595.64 101.5L596.31 101.5L596.31 100.81L595.64 100.12L594.29 99.43L592.95 99.43L591.6 100.12L590.93 100.81L590.26 102.88L590.26 106.33L590.93 107.71L592.28 108.4L594.29 108.4L595.64 107.71L596.31 106.33L596.31 104.95L595.64 103.57L594.29 102.88L592.28 102.88L590.26 104.26M592.95 99.43L591.6 100.81L590.93 102.88L590.93 106.33L591.6 107.71L592.28 108.4M594.29 108.4L594.96 107.71L595.64 106.33L595.64 104.95L594.96 103.57L594.29 102.88M599 97.36L600.34 98.74L601.68 100.81L602.36 102.88L602.36 105.64L601.68 107.71L600.34 109.78L599 111.16M600.34 98.74L601.01 100.12L601.68 102.88L601.68 105.64L601.01 108.4L600.34 109.78" stroke="#00f" stroke-width="1.65"/>
<path d="M615.58 99.43L615.58 108.4M616.19 101.5L618.65 108.4M616.19 99.43L618.65 106.33M621.72 99.43L618.65 108.4M621.72 99.43L621.72 108.4M622.34 99.43L622.34 108.4M614.35 99.43L616.19 99.43M621.72 99.43L623.56 99.43M614.35 108.4L616.81 108.4M620.49 108.4L623.56 108.4M626.64 102.19L629.09 108.4M627.25 102.19L629.09 107.02M631.55 102.19L629.09 108.4L627.87 110.47L626.64 111.16L626.02 111.16L625.41 110.47L625.41 109.78L626.02 109.78L626.02 110.47L625.41 110.47M625.41 102.19L628.48 102.19M630.32 102.19L632.78 102.19M635.85 102.19L635.85 108.4M636.47 102.19L636.47 108.4M636.47 104.26L637.08 102.88L638.31 102.19L639.54 102.19L640.15 102.88L640.15 103.57L639.54 103.57L639.54 102.88L640.15 102.88M634.62 102.19L636.47 102.19M634.62 108.4L637.7 108.4" stroke="#00f" stroke-width="1.65"/>
<path d="M102.55 308.7L101.83 309.43L102.55 310.15L103.27 309.43L103.27 308.7L102.55 307.97L101.1 307.97L99.65 308.7L98.92 310.15L98.92 323.2M101.1 307.97L100.38 308.7L99.65 310.15L99.65 323.2M96.75 313.05L102.55 313.05M96.75 323.2L101.83 323.2" stroke="#f00" stroke-width="1.7"/>
<path d="M105.83 322.63L105.83 323.3L105.16 323.3L105.16 322.63L105.83 321.96L107.17 321.29L109.18 321.29L110.52 321.96L111.19 323.3L110.52 324.64L109.18 325.31L107.17 325.98L105.83 326.65L105.16 327.99L105.16 330M109.18 321.29L109.85 321.96L110.52 323.3L109.85 324.64L109.18 325.31M105.16 329.33L105.83 328.66L106.5 328.66L108.51 329.33L110.52 329.33L111.19 328.66M106.5 328.66L108.51 330L110.52 330L111.19 328.66L111.19 327.99" stroke="#f00" stroke-width="1.75"/>
<path d="M116.51 313.05L115.78 313.77L116.51 314.5L117.23 313.77L116.51 313.05M116.51 321.75L115.78 322.47L116.51 323.2L117.23 322.47L116.51 321.75M134.63 310.88L135.36 311.6L134.63 312.32L133.91 311.6L133.91 310.88L134.63 309.43L135.36 308.7L137.53 307.97L140.43 307.97L142.61 308.7L143.33 309.43L144.06 310.88L144.06 312.32L143.33 313.77L141.16 315.22L137.53 316.68L136.08 317.4L134.63 318.85L133.91 321.02L133.91 323.2M140.43 307.97L141.88 308.7L142.61 309.43L143.33 310.88L143.33 312.32L142.61 313.77L140.43 315.22L137.53 316.68M133.91 321.75L134.63 321.02L136.08 321.02L139.71 322.47L141.88 322.47L143.33 321.75L144.06 321.02M136.08 321.02L139.71 323.2L142.61 323.2L143.33 322.47L144.06 321.02L144.06 319.57M149.86 307.97L148.41 315.22M148.41 315.22L149.86 313.77L152.03 313.05L154.21 313.05L156.38 313.77L157.83 315.22L158.56 317.4L158.56 318.85L157.83 321.02L156.38 322.47L154.21 323.2L152.03 323.2L149.86 322.47L149.13 321.75L148.41 320.3L148.41 319.57L149.13 318.85L149.86 319.57L149.13 320.3M154.21 313.05L155.66 313.77L157.11 315.22L157.83 317.4L157.83 318.85L157.11 321.02L155.66 322.47L154.21 323.2M149.86 307.97L157.11 307.97M149.86 308.7L153.48 308.7L157.11 307.97M164.36 307.97L162.91 315.22M162.91 315.22L164.36 313.77L166.53 313.05L168.71 313.05L170.88 313.77L172.33 315.22L173.06 317.4L173.06 318.85L172.33 321.02L170.88 322.47L168.71 323.2L166.53 323.2L164.36 322.47L163.63 321.75L162.91 320.3L162.91 319.57L163.63 318.85L164.36 319.57L163.63 320.3M168.71 313.05L170.16 313.77L171.61 315.22L172.33 317.4L172.33 318.85L171.61 321.02L170.16 322.47L168.71 323.2M164.36 307.97L171.61 307.97M164.36 308.7L167.98 308.7L171.61 307.97M178.86 321.75L178.13 322.47L178.86 323.2L179.58 322.47L178.86 321.75M184.66 307.97L184.66 312.32M184.66 310.88L185.38 309.43L186.83 307.97L188.28 307.97L191.91 310.15L193.36 310.15L194.08 309.43L194.81 307.97M185.38 309.43L186.83 308.7L188.28 308.7L191.91 310.15M194.81 307.97L194.81 310.15L194.08 312.32L191.18 315.95L190.46 317.4L189.73 319.57L189.73 323.2M194.08 312.32L190.46 315.95L189.73 317.4L189.01 319.57L189.01 323.2M218.01 314.5L218.73 313.05L218.73 315.95L218.01 314.5L217.28 313.77L215.83 313.05L212.93 313.05L211.48 313.77L210.76 314.5L210.76 315.95L211.48 316.68L212.93 317.4L216.56 318.85L218.01 319.57L218.73 320.3M210.76 315.22L211.48 315.95L212.93 316.68L216.56 318.12L218.01 318.85L218.73 319.57L218.73 321.75L218.01 322.47L216.56 323.2L213.66 323.2L212.21 322.47L211.48 321.75L210.76 320.3L210.76 323.2L211.48 321.75" stroke="#f00" stroke-width="1.7"/>
<path d="M101.2 345.43L101.2 354.4M101.84 345.43L101.84 354.4M101.2 350.26L100.56 348.88L99.28 348.19L98 348.19L96.72 348.88L96.08 350.26L96.08 352.33L96.72 353.71L98 354.4L99.28 354.4L100.56 353.71L101.2 352.33M98 348.19L97.36 348.88L96.72 350.26L96.72 352.33L97.36 353.71L98 354.4M99.92 345.43L101.84 345.43M101.2 354.4L103.12 354.4M106.96 345.43L106.96 354.4M107.6 345.43L107.6 354.4M105.68 345.43L110.16 345.43L112.08 346.12L112.72 347.5L112.72 348.19L112.08 349.57L110.16 350.26L107.6 350.26M110.16 345.43L111.44 346.12L112.08 347.5L112.08 348.19L111.44 349.57L110.16 350.26M105.68 354.4L108.88 354.4M122.32 343.36L115.28 357.16M130 345.43L130 354.4M130.64 345.43L130.64 354.4M130 350.26L129.36 348.88L128.08 348.19L126.8 348.19L125.52 348.88L124.88 350.26L124.88 352.33L125.52 353.71L126.8 354.4L128.08 354.4L129.36 353.71L130 352.33M126.8 348.19L126.16 348.88L125.52 350.26L125.52 352.33L126.16 353.71L126.8 354.4M128.72 345.43L130.64 345.43M130 354.4L131.92 354.4M135.76 345.43L135.76 353.02L137.04 354.4L138.32 354.4L138.96 353.71L138.96 353.02M136.4 345.43L136.4 353.02L137.04 354.4M134.48 348.19L138.32 348.19" stroke="#f00" stroke-width="1.65"/>
<path d="M150.49 348.88L157.4 348.88M150.49 351.64L157.4 351.64" stroke="#f00" stroke-width="1.65"/>
<path d="M171.1 345.43L169.78 346.12L169.12 348.19L169.12 351.64L169.78 353.71L171.1 354.4L173.07 354.4L174.39 353.71L175.05 351.64L175.05 348.19L174.39 346.12L173.07 345.43L171.1 345.43M171.1 345.43L170.44 346.12L169.78 348.19L169.78 351.64L170.44 353.71L171.1 354.4M173.07 354.4L173.73 353.71L174.39 351.64L174.39 348.19L173.73 346.12L173.07 345.43M179.01 353.02L178.35 353.71L179.01 354.4L179.67 353.71L179.01 353.02M183.62 346.81L183.62 347.5L182.96 347.5L182.96 346.81L183.62 346.12L184.94 345.43L186.92 345.43L188.24 346.12L188.89 347.5L188.24 348.88L186.92 349.57M186.92 345.43L187.58 346.12L188.24 347.5L187.58 348.88L186.92 349.57M185.6 349.57L186.92 349.57L188.24 350.26L188.89 351.64L188.89 352.33L188.24 353.71L186.92 354.4L184.94 354.4L183.62 353.71L182.96 353.02L182.96 352.33L183.62 352.33L183.62 353.02M186.92 349.57L187.58 350.26L188.24 351.64L188.24 352.33L187.58 353.71L186.92 354.4M194.83 346.81L194.83 354.4M195.49 345.43L195.49 354.4M195.49 345.43L190.87 351.64L198.12 351.64M193.51 354.4L196.8 354.4M202.08 345.43L200.76 346.12L200.1 348.19L200.1 351.64L200.76 353.71L202.08 354.4L204.06 354.4L205.37 353.71L206.03 351.64L206.03 348.19L205.37 346.12L204.06 345.43L202.08 345.43M202.08 345.43L201.42 346.12L200.76 348.19L200.76 351.64L201.42 353.71L202.08 354.4M204.06 354.4L204.72 353.71L205.37 351.64L205.37 348.19L204.72 346.12L204.06 345.43" stroke="#f00" stroke-width="1.65"/>
<path d="M213.88 343.36L212.51 344.74L211.14 346.81L210.45 348.88L210.45 351.64L211.14 353.71L212.51 355.78L213.88 357.16M212.51 344.74L211.82 346.12L211.14 348.88L211.14 351.64L211.82 354.4L212.51 355.78M217.3 345.43L216.62 349.57M217.3 345.43L222.1 345.43M217.3 346.12L220.04 346.12L222.1 345.43M216.62 349.57L217.3 348.88L218.67 348.19L220.73 348.19L222.1 348.88L222.78 350.26L222.78 352.33L222.1 353.71L220.73 354.4L218.67 354.4L217.3 353.71L216.62 353.02L216.62 352.33L217.3 352.33L217.3 353.02M220.73 348.19L221.41 348.88L222.1 350.26L222.1 352.33L221.41 353.71L220.73 354.4M227.57 345.43L226.2 346.12L225.52 347.5L226.2 348.88L227.57 349.57L229.63 349.57L231 348.88L231.68 347.5L231 346.12L229.63 345.43L227.57 345.43M227.57 345.43L226.89 346.12L226.2 347.5L226.89 348.88L227.57 349.57M229.63 349.57L230.31 348.88L231 347.5L230.31 346.12L229.63 345.43M227.57 349.57L226.2 350.26L225.52 351.64L225.52 352.33L226.2 353.71L227.57 354.4L229.63 354.4L231 353.71L231.68 352.33L231.68 351.64L231 350.26L229.63 349.57M227.57 349.57L226.89 350.26L226.2 351.64L226.2 352.33L226.89 353.71L227.57 354.4M229.63 354.4L230.31 353.71L231 352.33L231 351.64L230.31 350.26L229.63 349.57M234.42 343.36L235.79 344.74L237.16 346.81L237.85 348.88L237.85 351.64L237.16 353.71L235.79 355.78L234.42 357.16M235.79 344.74L236.48 346.12L237.16 348.88L237.16 351.64L236.48 354.4L235.79 355.78" stroke="#f00" stroke-width="1.65"/>
<path d="M242.9 345.43L242.9 354.4M243.54 345.43L243.54 354.4M246.1 348.19L246.1 350.95M241.62 345.43L248.02 345.43L248.02 348.19L247.38 345.43M243.54 349.57L246.1 349.57M241.62 354.4L248.02 354.4L248.02 351.64L247.38 354.4" stroke="#f00" stroke-width="1.65"/>
<path d="M252.31 350.26L258.99 350.26" stroke="#f00" stroke-width="1.65"/>
<path d="M264.72 347.5L266.72 345.43L266.72 354.4M266.05 346.12L266.05 354.4M264.06 354.4L268.72 354.4M272.71 346.81L272.71 347.5L272.04 347.5L272.04 346.81L272.71 346.12L274.04 345.43L276.04 345.43L277.37 346.12L278.03 347.5L277.37 348.88L276.04 349.57L274.04 350.26L272.71 350.95L272.04 352.33L272.04 354.4M276.04 345.43L276.7 346.12L277.37 347.5L276.7 348.88L276.04 349.57M272.04 353.71L272.71 353.02L273.38 353.02L275.37 353.71L277.37 353.71L278.03 353.02M273.38 353.02L275.37 354.4L277.37 354.4L278.03 353.02L278.03 352.33" stroke="#f00" stroke-width="1.65"/>
<path d="M291.64 348.19L292.28 348.88L292.28 349.57L292.92 349.57L292.92 348.88L291.64 348.19L289.72 348.19L288.44 348.88L288.44 350.26L289.72 350.95L291.64 351.64L292.92 352.33M288.44 349.57L289.72 350.26L291.64 350.95L292.92 351.64L292.92 353.71L291.64 354.4L289.72 354.4L288.44 353.71L288.44 353.02L289.08 353.02L289.08 353.71L289.72 354.4" stroke="#f00" stroke-width="1.65"/>
<path d="M306.48 348.19L307.12 348.88L307.12 349.57L307.76 349.57L307.76 348.88L306.48 348.19L304.56 348.19L303.28 348.88L303.28 350.26L304.56 350.95L306.48 351.64L307.76 352.33M303.28 349.57L304.56 350.26L306.48 350.95L307.76 351.64L307.76 353.71L306.48 354.4L304.56 354.4L303.28 353.71L303.28 353.02L303.92 353.02L303.92 353.71L304.56 354.4" stroke="#f00" stroke-width="1.65"/>
<path d="M309.69 346.59L312.93 346.59" stroke="#f00" stroke-width="1.5"/>
<path d="M316.38 344.85L317.68 343.54L317.68 349.2M317.25 343.98L317.25 349.2M315.94 349.2L318.99 349.2" stroke="#f00" stroke-width="1.7"/>
<path d="M97.26 372.43L97.26 381.4M97.9 372.43L97.9 381.4M95.98 372.43L100.46 372.43L102.38 373.12L103.02 374.5L103.02 375.19L102.38 376.57L100.46 377.26L97.9 377.26M100.46 372.43L101.74 373.12L102.38 374.5L102.38 375.19L101.74 376.57L100.46 377.26M95.98 381.4L99.18 381.4M112.62 370.36L105.58 384.16" stroke="#f00" stroke-width="1.65"/>
<path d="M117.46 372.43L117.46 381.4M118.1 372.43L118.1 381.4M116.18 372.43L120.66 372.43L122.58 373.12L123.22 374.5L123.22 375.19L122.58 376.57L120.66 377.26L118.1 377.26M120.66 372.43L121.94 373.12L122.58 374.5L122.58 375.19L121.94 376.57L120.66 377.26M116.18 381.4L119.38 381.4" stroke="#f00" stroke-width="1.65"/>
<rect x="118.1" y="368.1" width="2.1" height="1.6" fill="#f00" stroke="none"/>
<path d="M134.35 375.88L141.26 375.88M134.35 378.64L141.26 378.64" stroke="#f00" stroke-width="1.65"/>
<path d="M153.14 373.81L153.14 374.5L152.48 374.5L152.48 373.81L153.14 373.12L154.46 372.43L156.43 372.43L157.75 373.12L158.41 374.5L157.75 375.88L156.43 376.57L154.46 377.26L153.14 377.95L152.48 379.33L152.48 381.4M156.43 372.43L157.09 373.12L157.75 374.5L157.09 375.88L156.43 376.57M152.48 380.71L153.14 380.02L153.8 380.02L155.77 380.71L157.75 380.71L158.41 380.02M153.8 380.02L155.77 381.4L157.75 381.4L158.41 380.02L158.41 379.33M161.71 373.81L161.71 374.5L161.05 374.5L161.05 373.81L161.71 373.12L163.03 372.43L165 372.43L166.32 373.12L166.98 374.5L166.32 375.88L165 376.57M165 372.43L165.66 373.12L166.32 374.5L165.66 375.88L165 376.57M163.68 376.57L165 376.57L166.32 377.26L166.98 378.64L166.98 379.33L166.32 380.71L165 381.4L163.03 381.4L161.71 380.71L161.05 380.02L161.05 379.33L161.71 379.33L161.71 380.02M165 376.57L165.66 377.26L166.32 378.64L166.32 379.33L165.66 380.71L165 381.4M170.94 380.02L170.28 380.71L170.94 381.4L171.6 380.71L170.94 380.02M176.87 372.43L175.55 373.12L174.89 374.5L175.55 375.88L176.87 376.57L178.85 376.57L180.16 375.88L180.82 374.5L180.16 373.12L178.85 372.43L176.87 372.43M176.87 372.43L176.21 373.12L175.55 374.5L176.21 375.88L176.87 376.57M178.85 376.57L179.51 375.88L180.16 374.5L179.51 373.12L178.85 372.43M176.87 376.57L175.55 377.26L174.89 378.64L174.89 379.33L175.55 380.71L176.87 381.4L178.85 381.4L180.16 380.71L180.82 379.33L180.82 378.64L180.16 377.26L178.85 376.57M176.87 376.57L176.21 377.26L175.55 378.64L175.55 379.33L176.21 380.71L176.87 381.4M178.85 381.4L179.51 380.71L180.16 379.33L180.16 378.64L179.51 377.26L178.85 376.57" stroke="#f00" stroke-width="1.65"/>
<path d="M188.82 370.36L187.47 371.74L186.13 373.81L185.46 375.88L185.46 378.64L186.13 380.71L187.47 382.78L188.82 384.16M187.47 371.74L186.8 373.12L186.13 375.88L186.13 378.64L186.8 381.4L187.47 382.78M192.18 373.81L192.18 374.5L191.5 374.5L191.5 373.81L192.18 373.12L193.52 372.43L195.54 372.43L196.88 373.12L197.55 374.5L196.88 375.88L195.54 376.57M195.54 372.43L196.21 373.12L196.88 374.5L196.21 375.88L195.54 376.57M194.19 376.57L195.54 376.57L196.88 377.26L197.55 378.64L197.55 379.33L196.88 380.71L195.54 381.4L193.52 381.4L192.18 380.71L191.5 380.02L191.5 379.33L192.18 379.33L192.18 380.02M195.54 376.57L196.21 377.26L196.88 378.64L196.88 379.33L196.21 380.71L195.54 381.4M201.58 380.02L200.91 380.71L201.58 381.4L202.26 380.71L201.58 380.02M206.29 372.43L205.62 376.57M206.29 372.43L210.99 372.43M206.29 373.12L208.98 373.12L210.99 372.43M205.62 376.57L206.29 375.88L207.63 375.19L209.65 375.19L210.99 375.88L211.66 377.26L211.66 379.33L210.99 380.71L209.65 381.4L207.63 381.4L206.29 380.71L205.62 380.02L205.62 379.33L206.29 379.33L206.29 380.02M209.65 375.19L210.32 375.88L210.99 377.26L210.99 379.33L210.32 380.71L209.65 381.4M214.35 370.36L215.7 371.74L217.04 373.81L217.71 375.88L217.71 378.64L217.04 380.71L215.7 382.78L214.35 384.16M215.7 371.74L216.37 373.12L217.04 375.88L217.04 378.64L216.37 381.4L215.7 382.78" stroke="#f00" stroke-width="1.65"/>
<path d="M230.68 372.43L230.68 381.4M231.29 374.5L233.75 381.4M231.29 372.43L233.75 379.33M236.82 372.43L233.75 381.4M236.82 372.43L236.82 381.4M237.44 372.43L237.44 381.4M229.45 372.43L231.29 372.43M236.82 372.43L238.66 372.43M229.45 381.4L231.91 381.4M235.59 381.4L238.66 381.4M241.74 375.19L244.19 381.4M242.35 375.19L244.19 380.02M246.65 375.19L244.19 381.4L242.97 383.47L241.74 384.16L241.12 384.16L240.51 383.47L240.51 382.78L241.12 382.78L241.12 383.47L240.51 383.47M240.51 375.19L243.58 375.19M245.42 375.19L247.88 375.19M250.95 375.19L250.95 381.4M251.57 375.19L251.57 381.4M251.57 377.26L252.18 375.88L253.41 375.19L254.64 375.19L255.25 375.88L255.25 376.57L254.64 376.57L254.64 375.88L255.25 375.88M249.72 375.19L251.57 375.19M249.72 381.4L252.8 381.4" stroke="#f00" stroke-width="1.65"/>
<path d="M484.25 308.7L483.52 309.43L484.25 310.15L484.98 309.43L484.98 308.7L484.25 307.97L482.8 307.97L481.35 308.7L480.62 310.15L480.62 323.2M482.8 307.97L482.07 308.7L481.35 310.15L481.35 323.2M478.45 313.05L484.25 313.05M478.45 323.2L483.52 323.2" stroke="#006400" stroke-width="1.7"/>
<path d="M488.21 323.3L490.22 321.29L490.22 330M489.55 321.96L489.55 330M487.54 330L492.23 330" stroke="#006400" stroke-width="1.75"/>
<path d="M504.61 310.15L504.61 323.2M498.08 316.68L511.13 316.68M521.28 308.7L520.56 309.43L521.28 310.15L522.01 309.43L522.01 308.7L521.28 307.97L519.83 307.97L518.38 308.7L517.66 310.15L517.66 323.2M519.83 307.97L519.11 308.7L518.38 310.15L518.38 323.2M515.49 313.05L521.28 313.05M515.49 323.2L520.56 323.2" stroke="#006400" stroke-width="1.7"/>
<path d="M525.17 322.63L525.17 323.3L524.5 323.3L524.5 322.63L525.17 321.96L526.51 321.29L528.52 321.29L529.86 321.96L530.53 323.3L529.86 324.64L528.52 325.31L526.51 325.98L525.17 326.65L524.5 327.99L524.5 330M528.52 321.29L529.19 321.96L529.86 323.3L529.19 324.64L528.52 325.31M524.5 329.33L525.17 328.66L525.84 328.66L527.85 329.33L529.86 329.33L530.53 328.66M525.84 328.66L527.85 330L529.86 330L530.53 328.66L530.53 327.99" stroke="#006400" stroke-width="1.75"/>
<path d="M536.1 313.05L535.37 313.77L536.1 314.5L536.82 313.77L536.1 313.05M536.1 321.75L535.37 322.47L536.1 323.2L536.82 322.47L536.1 321.75M555.67 310.88L557.12 310.15L559.3 307.97L559.3 323.2M558.57 308.7L558.57 323.2M555.67 323.2L562.2 323.2M568.72 310.88L569.45 311.6L568.72 312.32L568 311.6L568 310.88L568.72 309.43L569.45 308.7L571.62 307.97L574.52 307.97L576.7 308.7L577.42 310.15L577.42 312.32L576.7 313.77L574.52 314.5L572.35 314.5M574.52 307.97L575.97 308.7L576.7 310.15L576.7 312.32L575.97 313.77L574.52 314.5M574.52 314.5L575.97 315.22L577.42 316.68L578.15 318.12L578.15 320.3L577.42 321.75L576.7 322.47L574.52 323.2L571.62 323.2L569.45 322.47L568.72 321.75L568 320.3L568 319.57L568.72 318.85L569.45 319.57L568.72 320.3M576.7 315.95L577.42 318.12L577.42 320.3L576.7 321.75L575.97 322.47L574.52 323.2M591.2 310.15L590.47 310.88L591.2 311.6L591.92 310.88L591.92 310.15L591.2 308.7L589.75 307.97L587.57 307.97L585.4 308.7L583.95 310.15L583.22 311.6L582.5 314.5L582.5 318.85L583.22 321.02L584.67 322.47L586.85 323.2L588.3 323.2L590.47 322.47L591.92 321.02L592.65 318.85L592.65 318.12L591.92 315.95L590.47 314.5L588.3 313.77L587.57 313.77L585.4 314.5L583.95 315.95L583.22 318.12M587.57 307.97L586.12 308.7L584.67 310.15L583.95 311.6L583.22 314.5L583.22 318.85L583.95 321.02L585.4 322.47L586.85 323.2M588.3 323.2L589.75 322.47L591.2 321.02L591.92 318.85L591.92 318.12L591.2 315.95L589.75 314.5L588.3 313.77M598.45 321.75L597.72 322.47L598.45 323.2L599.17 322.47L598.45 321.75M605.7 307.97L604.25 315.22M604.25 315.22L605.7 313.77L607.87 313.05L610.05 313.05L612.22 313.77L613.67 315.22L614.4 317.4L614.4 318.85L613.67 321.02L612.22 322.47L610.05 323.2L607.87 323.2L605.7 322.47L604.97 321.75L604.25 320.3L604.25 319.57L604.97 318.85L605.7 319.57L604.97 320.3M610.05 313.05L611.5 313.77L612.95 315.22L613.67 317.4L613.67 318.85L612.95 321.02L611.5 322.47L610.05 323.2M605.7 307.97L612.95 307.97M605.7 308.7L609.32 308.7L612.95 307.97M637.6 314.5L638.32 313.05L638.32 315.95L637.6 314.5L636.87 313.77L635.42 313.05L632.52 313.05L631.07 313.77L630.35 314.5L630.35 315.95L631.07 316.68L632.52 317.4L636.15 318.85L637.6 319.57L638.32 320.3M630.35 315.22L631.07 315.95L632.52 316.68L636.15 318.12L637.6 318.85L638.32 319.57L638.32 321.75L637.6 322.47L636.15 323.2L633.25 323.2L631.8 322.47L631.07 321.75L630.35 320.3L630.35 323.2L631.07 321.75" stroke="#006400" stroke-width="1.7"/>
<path d="M482.9 345.43L482.9 354.4M483.54 345.43L483.54 354.4M482.9 350.26L482.26 348.88L480.98 348.19L479.7 348.19L478.42 348.88L477.78 350.26L477.78 352.33L478.42 353.71L479.7 354.4L480.98 354.4L482.26 353.71L482.9 352.33M479.7 348.19L479.06 348.88L478.42 350.26L478.42 352.33L479.06 353.71L479.7 354.4M481.62 345.43L483.54 345.43M482.9 354.4L484.82 354.4M488.66 345.43L488.66 354.4M489.3 345.43L489.3 354.4M487.38 345.43L491.86 345.43L493.78 346.12L494.42 347.5L494.42 348.19L493.78 349.57L491.86 350.26L489.3 350.26M491.86 345.43L493.14 346.12L493.78 347.5L493.78 348.19L493.14 349.57L491.86 350.26M487.38 354.4L490.58 354.4M504.02 343.36L496.98 357.16M511.7 345.43L511.7 354.4M512.34 345.43L512.34 354.4M511.7 350.26L511.06 348.88L509.78 348.19L508.5 348.19L507.22 348.88L506.58 350.26L506.58 352.33L507.22 353.71L508.5 354.4L509.78 354.4L511.06 353.71L511.7 352.33M508.5 348.19L507.86 348.88L507.22 350.26L507.22 352.33L507.86 353.71L508.5 354.4M510.42 345.43L512.34 345.43M511.7 354.4L513.62 354.4M517.46 345.43L517.46 353.02L518.74 354.4L520.02 354.4L520.66 353.71L520.66 353.02M518.1 345.43L518.1 353.02L518.74 354.4M516.18 348.19L520.02 348.19" stroke="#006400" stroke-width="1.65"/>
<path d="M532.19 348.88L539.1 348.88M532.19 351.64L539.1 351.64" stroke="#006400" stroke-width="1.65"/>
<path d="M552.14 347.5L554.11 345.43L554.11 354.4M553.46 346.12L553.46 354.4M551.48 354.4L556.09 354.4M560.71 353.02L560.05 353.71L560.71 354.4L561.37 353.71L560.71 353.02M565.98 347.5L567.96 345.43L567.96 354.4M567.3 346.12L567.3 354.4M565.32 354.4L569.94 354.4M575.21 345.43L573.89 346.12L573.23 348.19L573.23 351.64L573.89 353.71L575.21 354.4L577.19 354.4L578.5 353.71L579.16 351.64L579.16 348.19L578.5 346.12L577.19 345.43L575.21 345.43M575.21 345.43L574.55 346.12L573.89 348.19L573.89 351.64L574.55 353.71L575.21 354.4M577.19 354.4L577.85 353.71L578.5 351.64L578.5 348.19L577.85 346.12L577.19 345.43M582.46 353.02L582.46 352.33L581.8 352.33L581.8 353.02L582.46 353.71L583.78 354.4L585.1 354.4L586.42 353.71L587.07 353.02L587.73 350.95L587.73 347.5L587.07 346.12L585.76 345.43L583.78 345.43L582.46 346.12L581.8 347.5L581.8 348.88L582.46 350.26L583.78 350.95L585.76 350.95L587.73 349.57M585.1 354.4L586.42 353.02L587.07 350.95L587.07 347.5L586.42 346.12L585.76 345.43M583.78 345.43L583.12 346.12L582.46 347.5L582.46 348.88L583.12 350.26L583.78 350.95" stroke="#006400" stroke-width="1.65"/>
<path d="M595.58 343.36L594.21 344.74L592.84 346.81L592.15 348.88L592.15 351.64L592.84 353.71L594.21 355.78L595.58 357.16M594.21 344.74L593.52 346.12L592.84 348.88L592.84 351.64L593.52 354.4L594.21 355.78M599 346.81L599 347.5L598.32 347.5L598.32 346.81L599 346.12L600.37 345.43L602.43 345.43L603.8 346.12L604.48 347.5L603.8 348.88L602.43 349.57M602.43 345.43L603.11 346.12L603.8 347.5L603.11 348.88L602.43 349.57M601.06 349.57L602.43 349.57L603.8 350.26L604.48 351.64L604.48 352.33L603.8 353.71L602.43 354.4L600.37 354.4L599 353.71L598.32 353.02L598.32 352.33L599 352.33L599 353.02M602.43 349.57L603.11 350.26L603.8 351.64L603.8 352.33L603.11 353.71L602.43 354.4M609.27 345.43L607.9 346.12L607.22 348.19L607.22 351.64L607.9 353.71L609.27 354.4L611.33 354.4L612.7 353.71L613.38 351.64L613.38 348.19L612.7 346.12L611.33 345.43L609.27 345.43M609.27 345.43L608.59 346.12L607.9 348.19L607.9 351.64L608.59 353.71L609.27 354.4M611.33 354.4L612.01 353.71L612.7 351.64L612.7 348.19L612.01 346.12L611.33 345.43M616.12 343.36L617.49 344.74L618.86 346.81L619.55 348.88L619.55 351.64L618.86 353.71L617.49 355.78L616.12 357.16M617.49 344.74L618.18 346.12L618.86 348.88L618.86 351.64L618.18 354.4L617.49 355.78" stroke="#006400" stroke-width="1.65"/>
<path d="M624.6 345.43L624.6 354.4M625.24 345.43L625.24 354.4M627.8 348.19L627.8 350.95M623.32 345.43L629.72 345.43L629.72 348.19L629.08 345.43M625.24 349.57L627.8 349.57M623.32 354.4L629.72 354.4L629.72 351.64L629.08 354.4" stroke="#006400" stroke-width="1.65"/>
<path d="M634.01 350.26L640.69 350.26" stroke="#006400" stroke-width="1.65"/>
<path d="M646.42 347.5L648.42 345.43L648.42 354.4M647.75 346.12L647.75 354.4M645.76 354.4L650.42 354.4M654.41 346.81L654.41 347.5L653.74 347.5L653.74 346.81L654.41 346.12L655.74 345.43L657.74 345.43L659.07 346.12L659.73 347.5L659.07 348.88L657.74 349.57L655.74 350.26L654.41 350.95L653.74 352.33L653.74 354.4M657.74 345.43L658.4 346.12L659.07 347.5L658.4 348.88L657.74 349.57M653.74 353.71L654.41 353.02L655.08 353.02L657.07 353.71L659.07 353.71L659.73 353.02M655.08 353.02L657.07 354.4L659.07 354.4L659.73 353.02L659.73 352.33" stroke="#006400" stroke-width="1.65"/>
<path d="M673.34 348.19L673.98 348.88L673.98 349.57L674.62 349.57L674.62 348.88L673.34 348.19L671.42 348.19L670.14 348.88L670.14 350.26L671.42 350.95L673.34 351.64L674.62 352.33M670.14 349.57L671.42 350.26L673.34 350.95L674.62 351.64L674.62 353.71L673.34 354.4L671.42 354.4L670.14 353.71L670.14 353.02L670.78 353.02L670.78 353.71L671.42 354.4" stroke="#006400" stroke-width="1.65"/>
<path d="M688.18 348.19L688.82 348.88L688.82 349.57L689.46 349.57L689.46 348.88L688.18 348.19L686.26 348.19L684.98 348.88L684.98 350.26L686.26 350.95L688.18 351.64L689.46 352.33M684.98 349.57L686.26 350.26L688.18 350.95L689.46 351.64L689.46 353.71L688.18 354.4L686.26 354.4L684.98 353.71L684.98 353.02L685.62 353.02L685.62 353.71L686.26 354.4" stroke="#006400" stroke-width="1.65"/>
<path d="M691.39 346.59L694.63 346.59" stroke="#006400" stroke-width="1.5"/>
<path d="M698.08 344.85L699.38 343.54L699.38 349.2M698.95 343.98L698.95 349.2M697.64 349.2L700.69 349.2" stroke="#006400" stroke-width="1.7"/>
<path d="M478.96 372.43L478.96 381.4M479.6 372.43L479.6 381.4M477.68 372.43L482.16 372.43L484.08 373.12L484.72 374.5L484.72 375.19L484.08 376.57L482.16 377.26L479.6 377.26M482.16 372.43L483.44 373.12L484.08 374.5L484.08 375.19L483.44 376.57L482.16 377.26M477.68 381.4L480.88 381.4M494.32 370.36L487.28 384.16" stroke="#006400" stroke-width="1.65"/>
<path d="M499.16 372.43L499.16 381.4M499.8 372.43L499.8 381.4M497.88 372.43L502.36 372.43L504.28 373.12L504.92 374.5L504.92 375.19L504.28 376.57L502.36 377.26L499.8 377.26M502.36 372.43L503.64 373.12L504.28 374.5L504.28 375.19L503.64 376.57L502.36 377.26M497.88 381.4L501.08 381.4" stroke="#006400" stroke-width="1.65"/>
<rect x="499.8" y="368.1" width="2.1" height="1.6" fill="#006400" stroke="none"/>
<path d="M516.05 375.88L522.96 375.88M516.05 378.64L522.96 378.64" stroke="#006400" stroke-width="1.65"/>
<path d="M534.84 373.81L534.84 374.5L534.18 374.5L534.18 373.81L534.84 373.12L536.16 372.43L538.13 372.43L539.45 373.12L540.11 374.5L539.45 375.88L538.13 376.57M538.13 372.43L538.79 373.12L539.45 374.5L538.79 375.88L538.13 376.57M536.82 376.57L538.13 376.57L539.45 377.26L540.11 378.64L540.11 379.33L539.45 380.71L538.13 381.4L536.16 381.4L534.84 380.71L534.18 380.02L534.18 379.33L534.84 379.33L534.84 380.02M538.13 376.57L538.79 377.26L539.45 378.64L539.45 379.33L538.79 380.71L538.13 381.4M544.07 380.02L543.41 380.71L544.07 381.4L544.73 380.71L544.07 380.02M548.68 380.02L548.68 379.33L548.02 379.33L548.02 380.02L548.68 380.71L550 381.4L551.32 381.4L552.64 380.71L553.3 380.02L553.95 377.95L553.95 374.5L553.3 373.12L551.98 372.43L550 372.43L548.68 373.12L548.02 374.5L548.02 375.88L548.68 377.26L550 377.95L551.98 377.95L553.95 376.57M551.32 381.4L552.64 380.02L553.3 377.95L553.3 374.5L552.64 373.12L551.98 372.43M550 372.43L549.34 373.12L548.68 374.5L548.68 375.88L549.34 377.26L550 377.95M558.57 372.43L557.25 373.12L556.59 375.19L556.59 378.64L557.25 380.71L558.57 381.4L560.55 381.4L561.86 380.71L562.52 378.64L562.52 375.19L561.86 373.12L560.55 372.43L558.57 372.43M558.57 372.43L557.91 373.12L557.25 375.19L557.25 378.64L557.91 380.71L558.57 381.4M560.55 381.4L561.21 380.71L561.86 378.64L561.86 375.19L561.21 373.12L560.55 372.43" stroke="#006400" stroke-width="1.65"/>
<path d="M570.52 370.36L569.17 371.74L567.83 373.81L567.16 375.88L567.16 378.64L567.83 380.71L569.17 382.78L570.52 384.16M569.17 371.74L568.5 373.12L567.83 375.88L567.83 378.64L568.5 381.4L569.17 382.78M574.55 374.5L576.56 372.43L576.56 381.4M575.89 373.12L575.89 381.4M573.88 381.4L578.58 381.4M583.96 372.43L582.61 373.12L581.94 375.19L581.94 378.64L582.61 380.71L583.96 381.4L585.97 381.4L587.32 380.71L587.99 378.64L587.99 375.19L587.32 373.12L585.97 372.43L583.96 372.43M583.96 372.43L583.28 373.12L582.61 375.19L582.61 378.64L583.28 380.71L583.96 381.4M585.97 381.4L586.64 380.71L587.32 378.64L587.32 375.19L586.64 373.12L585.97 372.43M590.68 370.36L592.02 371.74L593.36 373.81L594.04 375.88L594.04 378.64L593.36 380.71L592.02 382.78L590.68 384.16M592.02 371.74L592.69 373.12L593.36 375.88L593.36 378.64L592.69 381.4L592.02 382.78" stroke="#006400" stroke-width="1.65"/>
<path d="M607.26 372.43L607.26 381.4M607.87 374.5L610.33 381.4M607.87 372.43L610.33 379.33M613.4 372.43L610.33 381.4M613.4 372.43L613.4 381.4M614.02 372.43L614.02 381.4M606.03 372.43L607.87 372.43M613.4 372.43L615.24 372.43M606.03 381.4L608.49 381.4M612.17 381.4L615.24 381.4M618.32 375.19L620.77 381.4M618.93 375.19L620.77 380.02M623.23 375.19L620.77 381.4L619.55 383.47L618.32 384.16L617.7 384.16L617.09 383.47L617.09 382.78L617.7 382.78L617.7 383.47L617.09 383.47M617.09 375.19L620.16 375.19M622 375.19L624.46 375.19M627.53 375.19L627.53 381.4M628.15 375.19L628.15 381.4M628.15 377.26L628.76 375.88L629.99 375.19L631.22 375.19L631.83 375.88L631.83 376.57L631.22 376.57L631.22 375.88L631.83 375.88M626.3 375.19L628.15 375.19M626.3 381.4L629.38 381.4" stroke="#006400" stroke-width="1.65"/>
</svg>
</body></html>
